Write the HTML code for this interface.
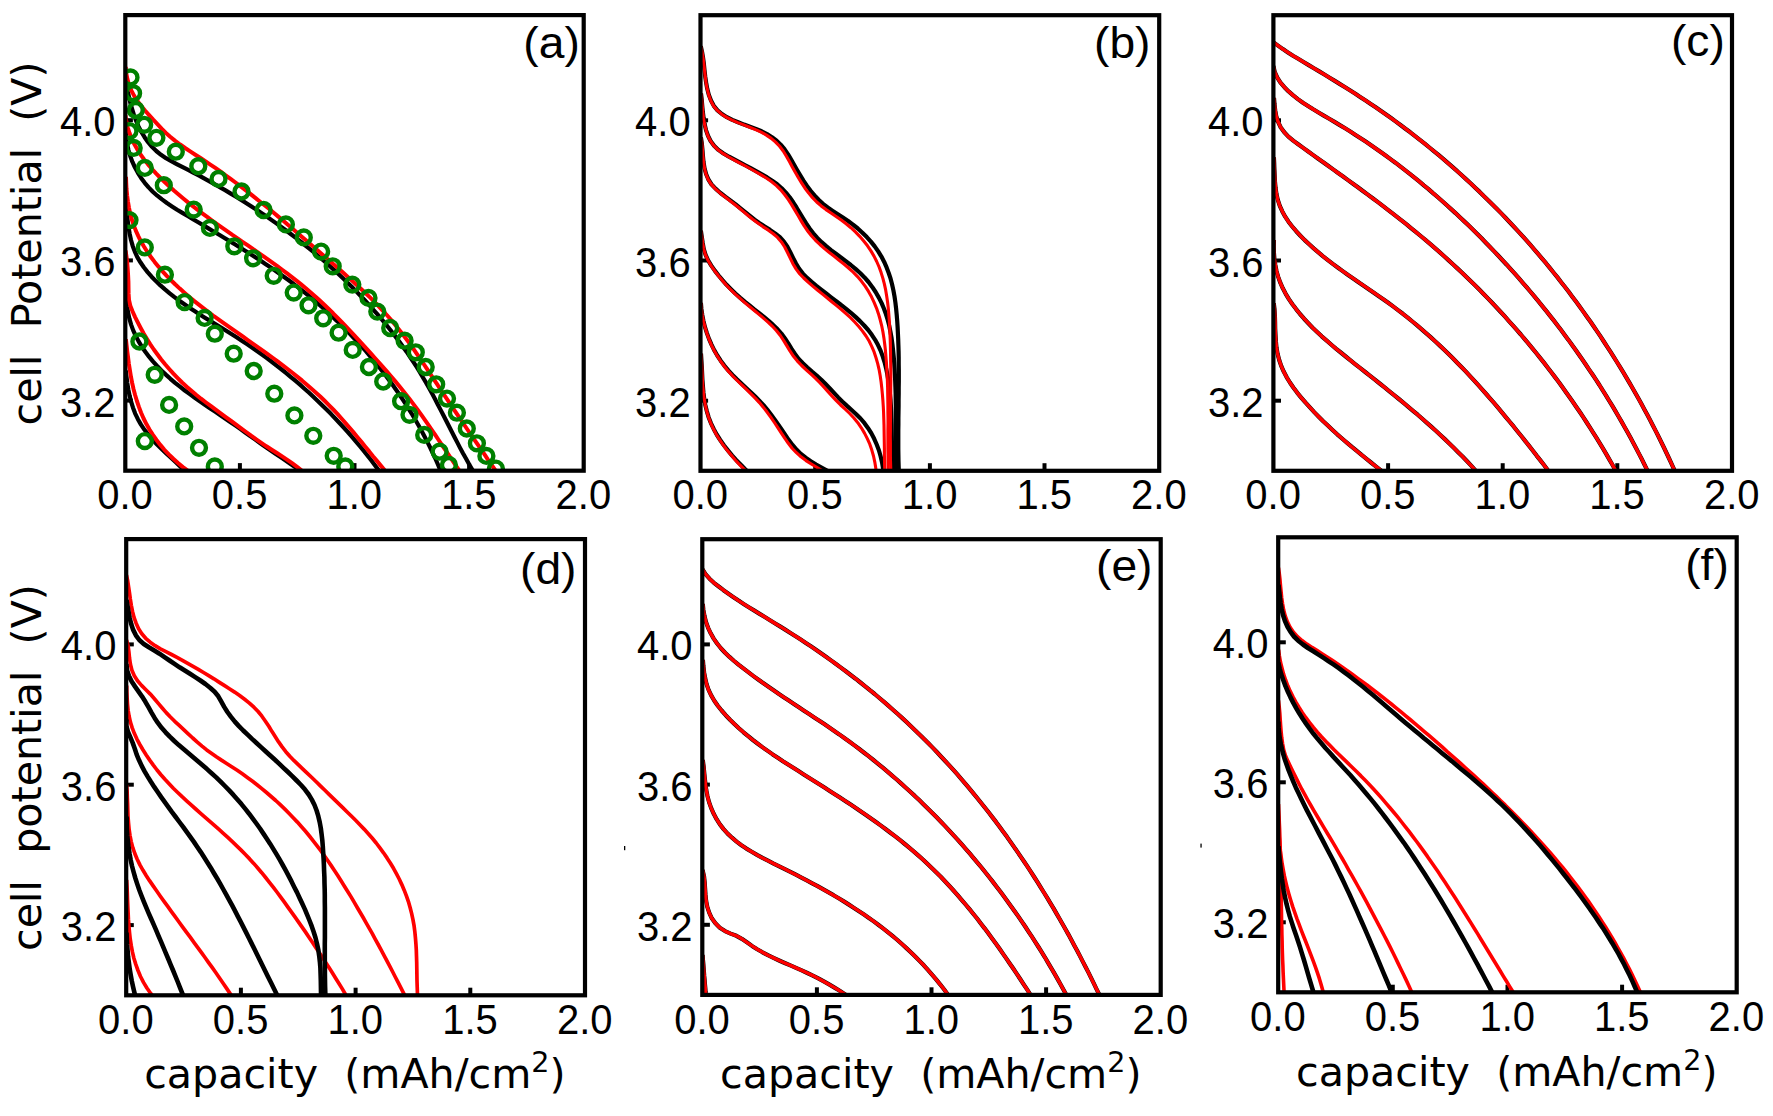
<!DOCTYPE html>
<html><head><meta charset="utf-8"><title>Discharge curves</title>
<style>
html,body{margin:0;padding:0;background:#fff;}
body{width:1773px;height:1116px;overflow:hidden;}
svg{display:block;}
.tk{font-family:"Liberation Sans",Arial,sans-serif;font-size:40px;fill:#000;}
.pl{font-family:"Liberation Sans",Arial,sans-serif;font-size:46.2px;fill:#000;}
.ax{font-family:"DejaVu Sans",Verdana,sans-serif;font-size:41.2px;fill:#000;}
.fr{fill:none;stroke:#000;stroke-width:4.2;}
.k{fill:none;stroke:#000;stroke-linejoin:round;stroke-linecap:butt;}
.r{fill:none;stroke:#f00;stroke-linejoin:round;stroke-linecap:butt;}
.g{fill:none;stroke:#008000;stroke-width:4.4;}
.t{stroke:#000;stroke-width:4;}
</style></head><body>
<svg width="1773" height="1116" viewBox="0 0 1773 1116">
<rect width="1773" height="1116" fill="#fff"/>

<clipPath id="cpa"><rect x="125.3" y="15.1" width="458.4" height="455.6"/></clipPath>
<line class="t" x1="239.9" y1="470.7" x2="239.9" y2="463.1"/>
<line class="t" x1="354.5" y1="470.7" x2="354.5" y2="463.1"/>
<line class="t" x1="469.1" y1="470.7" x2="469.1" y2="463.1"/>
<line class="t" x1="125.3" y1="400.6" x2="132.9" y2="400.6"/>
<line class="t" x1="125.3" y1="260.4" x2="132.9" y2="260.4"/>
<line class="t" x1="125.3" y1="120.2" x2="132.9" y2="120.2"/>
<g clip-path="url(#cpa)">
<path class="k" stroke-width="4.2" d="M125.6 79.5 L126.7 85.4 L127.8 91.4 L129.1 97.4 L130.5 103.4 L132.2 109.3 L134 115.2 L136.2 120.9 L138.6 126.6 L141.4 132 L144.6 137.2 L148.1 142.2 L152 146.8 L156.3 151 L161 154.8 L166 158.2 L171.3 161.2 L176.7 164.1 L182.2 166.9 L187.7 169.7 L193.2 172.6 L198.7 175.4 L204.1 178.4 L209.5 181.3 L214.9 184.3 L220.2 187.4 L225.5 190.4 L230.8 193.6 L236 196.7 L241.2 199.9 L246.4 203.2 L251.5 206.5 L256.6 209.8 L261.7 213.2 L266.7 216.6 L271.7 220.1 L276.7 223.6 L281.6 227.2 L286.5 230.8 L291.4 234.5 L296.2 238.2 L301.1 241.9 L305.8 245.8 L310.6 249.6 L315.3 253.5 L319.9 257.5 L324.6 261.5 L329.1 265.5 L333.7 269.6 L338.2 273.8 L342.7 278 L347.1 282.2 L351.5 286.5 L355.8 290.9 L360 295.3 L364.3 299.7 L368.4 304.2 L372.5 308.8 L376.6 313.4 L380.6 318 L384.5 322.7 L388.4 327.5 L392.2 332.3 L395.9 337.1 L399.6 342 L403.1 347 L406.7 351.9 L410.1 357 L413.5 362.1 L416.8 367.2 L420 372.4 L423.1 377.7 L426.2 382.9 L429.2 388.3 L432.1 393.6 L435 399 L437.8 404.5 L440.6 409.9 L443.4 415.3 L446.2 420.8 L449 426.3 L451.8 431.7 L454.6 437.2 L457.4 442.6 L460.2 448.1 L463.1 453.5 L466.1 458.8 L469.1 464.2 L472.2 469.5 L475.3 474.7"/>
<path class="k" stroke-width="4.2" d="M125.7 132 L126.2 138.2 L127.2 144.3 L128.5 150.3 L130.3 156.2 L132.4 161.9 L135 167.5 L137.9 172.8 L141.1 177.9 L144.7 182.8 L148.6 187.4 L152.8 191.7 L157.3 195.7 L162 199.4 L166.9 203 L172 206.4 L177.1 209.7 L182.4 212.9 L187.7 216 L193 219.2 L198.2 222.3 L203.5 225.4 L208.8 228.6 L214 231.7 L219.2 234.8 L224.5 238 L229.7 241.1 L234.8 244.3 L240 247.5 L245.1 250.7 L250.3 253.9 L255.3 257.2 L260.4 260.5 L265.4 263.9 L270.4 267.3 L275.4 270.7 L280.3 274.2 L285.2 277.7 L290.1 281.3 L294.9 284.9 L299.7 288.6 L304.5 292.4 L309.2 296.2 L313.8 300.1 L318.4 304 L323 308 L327.5 312.1 L332 316.2 L336.4 320.4 L340.8 324.6 L345.1 328.9 L349.4 333.3 L353.6 337.7 L357.7 342.1 L361.8 346.6 L365.9 351.2 L369.8 355.8 L373.7 360.5 L377.6 365.2 L381.4 370 L385.1 374.8 L388.8 379.7 L392.4 384.6 L395.9 389.5 L399.4 394.5 L402.8 399.6 L406.1 404.7 L409.3 409.8 L412.5 415 L415.6 420.3 L418.6 425.5 L421.5 430.8 L424.4 436.2 L427.2 441.6 L429.9 447 L432.5 452.5 L435.1 458 L437.5 463.5 L439.9 469.1 L442.2 474.7"/>
<path class="k" stroke-width="4.2" d="M125.6 203.5 L126.4 209.4 L127.1 215.4 L127.8 221.5 L128.6 227.7 L129.7 233.9 L131 240 L132.7 245.9 L134.8 251.6 L137.3 257.1 L140.4 262.3 L143.8 267.3 L147.6 272.1 L151.6 276.7 L155.9 281.1 L160.4 285.4 L165 289.4 L169.7 293.3 L174.5 297.1 L179.4 300.8 L184.4 304.3 L189.4 307.8 L194.5 311.1 L199.7 314.4 L204.9 317.7 L210.1 320.9 L215.3 324.1 L220.6 327.3 L225.8 330.6 L231 333.8 L236.2 337.1 L241.4 340.4 L246.5 343.8 L251.6 347.2 L256.6 350.7 L261.6 354.3 L266.5 357.9 L271.4 361.5 L276.3 365.3 L281.1 369 L285.9 372.9 L290.6 376.8 L295.3 380.7 L300 384.7 L304.5 388.7 L309.1 392.8 L313.6 397 L318 401.2 L322.4 405.5 L326.8 409.8 L331.1 414.1 L335.3 418.5 L339.5 423 L343.7 427.5 L347.8 432 L351.8 436.6 L355.8 441.3 L359.7 446 L363.6 450.7 L367.4 455.5 L371.2 460.3 L374.9 465.2 L378.5 470.1 L382.1 475.1"/>
<path class="k" stroke-width="4.2" d="M125.8 282.1 L125.9 288.3 L126.1 294.4 L126.5 300.6 L127.2 306.7 L128.1 312.8 L129.4 318.7 L131.1 324.6 L133.2 330.4 L135.8 336 L138.6 341.4 L141.8 346.7 L145.3 351.8 L149 356.7 L152.9 361.4 L157.1 366 L161.4 370.4 L165.8 374.6 L170.4 378.8 L175.1 382.8 L180 386.7 L184.8 390.5 L189.8 394.1 L194.8 397.7 L199.8 401.3 L204.8 404.7 L209.9 408.2 L215 411.6 L220 415 L225.1 418.4 L230.2 421.9 L235.2 425.4 L240.2 428.9 L245.2 432.5 L250.2 436.1 L255.3 439.6 L260.3 443.2 L265.3 446.7 L270.4 450.2 L275.5 453.7 L280.5 457.1 L285.6 460.6 L290.6 464.1 L295.7 467.6 L300.6 471.2 L305.6 474.8"/>
<path class="k" stroke-width="4.2" d="M125.8 370.5 L126.5 376.8 L127.3 383.1 L128.3 389.4 L129.6 395.6 L131.1 401.7 L133 407.7 L135.2 413.6 L137.9 419.2 L141 424.6 L144.5 429.8 L148.4 434.8 L152.5 439.6 L156.8 444.3 L161.4 448.8 L166 453.2 L170.7 457.5 L175.3 461.8 L179.9 466.1 L184.3 470.5 L188.4 474.9"/>
<path class="r" stroke-width="4.0" d="M125.7 66.8 L126.2 73.1 L127.4 79.1 L129.1 85 L131.4 90.6 L134.2 95.9 L137.4 100.9 L141.1 105.8 L145 110.5 L149.1 115.1 L153.2 119.7 L157.4 124.2 L161.6 128.7 L165.9 133 L170.5 137 L175.2 140.9 L180.1 144.5 L185.1 148 L190.2 151.4 L195.3 154.7 L200.5 158 L205.6 161.4 L210.7 164.8 L215.7 168.2 L220.7 171.7 L225.6 175.3 L230.6 178.9 L235.5 182.5 L240.3 186.2 L245.2 189.9 L250 193.6 L254.7 197.4 L259.5 201.2 L264.2 205 L269 208.8 L273.7 212.7 L278.3 216.6 L283 220.5 L287.6 224.5 L292.3 228.4 L296.9 232.4 L301.5 236.4 L306.2 240.4 L310.8 244.4 L315.4 248.4 L320 252.4 L324.6 256.5 L329.2 260.5 L333.8 264.5 L338.4 268.6 L343 272.6 L347.6 276.7 L352.1 280.7 L356.7 284.9 L361.1 289 L365.6 293.2 L370 297.4 L374.3 301.7 L378.5 306.1 L382.7 310.5 L386.8 315 L390.8 319.5 L394.7 324.2 L398.5 328.9 L402.3 333.7 L405.9 338.5 L409.5 343.4 L413.1 348.4 L416.5 353.4 L420 358.4 L423.4 363.5 L426.8 368.6 L430.1 373.7 L433.5 378.8 L436.9 383.9 L440.2 389 L443.6 394.1 L447 399.2 L450.4 404.2 L453.8 409.3 L457.2 414.4 L460.6 419.4 L464 424.5 L467.4 429.5 L470.9 434.6 L474.3 439.6 L477.8 444.7 L481.2 449.7 L484.7 454.7 L488.1 459.8 L491.6 464.8 L495.1 469.8 L498.6 474.8"/>
<path class="r" stroke-width="4.0" d="M125.4 115.2 L126.3 121.5 L127.7 127.5 L129.6 133.3 L131.8 138.9 L134.4 144.3 L137.4 149.6 L140.7 154.7 L144.3 159.6 L148 164.4 L152 169 L156.2 173.6 L160.5 178 L164.9 182.3 L169.4 186.5 L173.9 190.6 L178.6 194.6 L183.3 198.5 L188 202.4 L192.8 206.2 L197.7 209.9 L202.6 213.6 L207.5 217.2 L212.4 220.8 L217.4 224.4 L222.4 227.9 L227.4 231.4 L232.4 234.9 L237.5 238.3 L242.5 241.8 L247.5 245.2 L252.5 248.7 L257.5 252.1 L262.5 255.6 L267.5 259.1 L272.4 262.6 L277.3 266.2 L282.2 269.8 L287.1 273.4 L291.9 277.1 L296.7 280.8 L301.4 284.6 L306.1 288.5 L310.7 292.5 L315.3 296.5 L319.8 300.6 L324.3 304.8 L328.7 309 L333.1 313.3 L337.4 317.7 L341.6 322 L345.9 326.5 L350.1 330.9 L354.3 335.4 L358.5 339.9 L362.6 344.4 L366.7 348.9 L370.8 353.4 L374.9 358 L379 362.5 L383 367.1 L387 371.6 L391 376.2 L394.9 380.9 L398.8 385.5 L402.6 390.3 L406.4 395 L410.1 399.8 L413.8 404.6 L417.4 409.5 L421 414.4 L424.5 419.4 L428 424.4 L431.4 429.4 L434.9 434.4 L438.3 439.5 L441.7 444.6 L445.1 449.6 L448.5 454.7 L452 459.8 L455.4 464.9 L458.8 469.9 L462.3 475"/>
<path class="r" stroke-width="4.0" d="M126 176.7 L126.2 182.8 L126.5 189 L127.1 195.2 L127.9 201.3 L128.9 207.3 L130.2 213.3 L131.7 219.2 L133.6 224.9 L135.8 230.6 L138.3 236.1 L141 241.5 L144.1 246.8 L147.4 252 L150.9 257 L154.6 261.9 L158.5 266.7 L162.6 271.3 L166.7 275.8 L171 280.2 L175.4 284.5 L179.8 288.6 L184.4 292.7 L189 296.7 L193.7 300.6 L198.5 304.4 L203.3 308.1 L208.2 311.8 L213.1 315.5 L218.1 319.1 L223 322.6 L228 326.2 L233 329.7 L238.1 333.2 L243.1 336.7 L248.1 340.3 L253.1 343.8 L258.1 347.3 L263.1 350.9 L268 354.4 L273 358 L277.9 361.7 L282.8 365.3 L287.6 369 L292.4 372.8 L297.2 376.6 L301.9 380.4 L306.6 384.4 L311.2 388.4 L315.7 392.4 L320.2 396.5 L324.6 400.8 L328.9 405.1 L333.2 409.5 L337.4 413.9 L341.5 418.5 L345.5 423.1 L349.6 427.8 L353.5 432.4 L357.5 437.2 L361.4 441.9 L365.3 446.7 L369.2 451.4 L373 456.2 L376.9 460.9 L380.8 465.6 L384.7 470.3 L388.6 474.9"/>
<path class="r" stroke-width="4.0" d="M125.6 250.5 L126.5 256.7 L127.2 262.8 L127.7 269 L128.1 275.3 L128.4 281.5 L128.5 287.7 L128.6 293.9 L129 299.9 L130.3 305.7 L132.6 311.5 L135.1 317.1 L137.9 322.7 L140.8 328.2 L143.8 333.7 L147 339 L150.3 344.3 L153.8 349.5 L157.5 354.5 L161.2 359.5 L165.1 364.3 L169.2 369 L173.4 373.7 L177.7 378.1 L182.1 382.5 L186.7 386.7 L191.4 390.8 L196.1 394.8 L201 398.7 L206 402.5 L211 406.2 L216 409.9 L221 413.6 L226.1 417.3 L231.1 420.9 L236.1 424.6 L241.1 428.3 L246.1 432 L251.1 435.7 L256.2 439.3 L261.3 442.8 L266.4 446.3 L271.7 449.7 L276.9 453 L282.1 456.4 L287.3 459.8 L292.4 463.4 L297.4 467.1 L302.3 471 L306.9 475.1"/>
<path class="r" stroke-width="4.0" d="M125.9 339.2 L126.6 345.4 L127.3 351.6 L128.1 357.8 L128.9 364.1 L129.9 370.3 L130.9 376.5 L132.1 382.7 L133.5 388.9 L135.1 395 L136.9 401 L138.9 406.9 L141.1 412.8 L143.6 418.5 L146.4 424.1 L149.5 429.5 L152.9 434.8 L156.5 440 L160.3 444.9 L164.4 449.8 L168.8 454.4 L173.3 458.8 L178 463 L182.9 467.1 L188 470.9 L193.3 474.4"/>
<circle class="g" cx="130.5" cy="77.4" r="6.95"/>
<circle class="g" cx="133.1" cy="93.2" r="6.95"/>
<circle class="g" cx="135.8" cy="110" r="6.95"/>
<circle class="g" cx="144.2" cy="124.8" r="6.95"/>
<circle class="g" cx="156.4" cy="137.8" r="6.95"/>
<circle class="g" cx="175.8" cy="151.7" r="6.95"/>
<circle class="g" cx="198.3" cy="166.2" r="6.95"/>
<circle class="g" cx="218.5" cy="178.9" r="6.95"/>
<circle class="g" cx="241.5" cy="191.5" r="6.95"/>
<circle class="g" cx="263.6" cy="210" r="6.95"/>
<circle class="g" cx="285.9" cy="224.4" r="6.95"/>
<circle class="g" cx="303.8" cy="237.4" r="6.95"/>
<circle class="g" cx="129.5" cy="131.1" r="6.95"/>
<circle class="g" cx="133.7" cy="147.9" r="6.95"/>
<circle class="g" cx="144.8" cy="167.9" r="6.95"/>
<circle class="g" cx="163.8" cy="185.2" r="6.95"/>
<circle class="g" cx="193.7" cy="209.6" r="6.95"/>
<circle class="g" cx="209.9" cy="227.9" r="6.95"/>
<circle class="g" cx="129.5" cy="220.1" r="6.95"/>
<circle class="g" cx="321.1" cy="251.6" r="6.95"/>
<circle class="g" cx="332.7" cy="266.3" r="6.95"/>
<circle class="g" cx="352.3" cy="284.6" r="6.95"/>
<circle class="g" cx="368.5" cy="297.9" r="6.95"/>
<circle class="g" cx="377.3" cy="311.6" r="6.95"/>
<circle class="g" cx="390.2" cy="328" r="6.95"/>
<circle class="g" cx="234.3" cy="246.3" r="6.95"/>
<circle class="g" cx="253.1" cy="258.3" r="6.95"/>
<circle class="g" cx="273.7" cy="275.8" r="6.95"/>
<circle class="g" cx="293.7" cy="292.6" r="6.95"/>
<circle class="g" cx="308.5" cy="305.3" r="6.95"/>
<circle class="g" cx="323.2" cy="318.3" r="6.95"/>
<circle class="g" cx="338.6" cy="332.7" r="6.95"/>
<circle class="g" cx="352.7" cy="349.9" r="6.95"/>
<circle class="g" cx="368.9" cy="367" r="6.95"/>
<circle class="g" cx="383.2" cy="381.5" r="6.95"/>
<circle class="g" cx="144.8" cy="247.4" r="6.95"/>
<circle class="g" cx="164.9" cy="274.7" r="6.95"/>
<circle class="g" cx="184.6" cy="302.1" r="6.95"/>
<circle class="g" cx="204.6" cy="317.9" r="6.95"/>
<circle class="g" cx="214.8" cy="333.7" r="6.95"/>
<circle class="g" cx="233.7" cy="353.7" r="6.95"/>
<circle class="g" cx="253.7" cy="371" r="6.95"/>
<circle class="g" cx="274.3" cy="393.7" r="6.95"/>
<circle class="g" cx="294.4" cy="415.4" r="6.95"/>
<circle class="g" cx="313.3" cy="435.8" r="6.95"/>
<circle class="g" cx="333.7" cy="455.8" r="6.95"/>
<circle class="g" cx="345.3" cy="466.4" r="6.95"/>
<circle class="g" cx="139.4" cy="341.5" r="6.95"/>
<circle class="g" cx="154.7" cy="374.8" r="6.95"/>
<circle class="g" cx="169.1" cy="404.9" r="6.95"/>
<circle class="g" cx="184.2" cy="426.4" r="6.95"/>
<circle class="g" cx="199" cy="447.8" r="6.95"/>
<circle class="g" cx="214.8" cy="466.4" r="6.95"/>
<circle class="g" cx="144.8" cy="441.1" r="6.95"/>
<circle class="g" cx="404.6" cy="340.7" r="6.95"/>
<circle class="g" cx="415.8" cy="352.3" r="6.95"/>
<circle class="g" cx="425.7" cy="367" r="6.95"/>
<circle class="g" cx="436.2" cy="384.3" r="6.95"/>
<circle class="g" cx="447" cy="398.6" r="6.95"/>
<circle class="g" cx="456.9" cy="412.7" r="6.95"/>
<circle class="g" cx="466.8" cy="428.5" r="6.95"/>
<circle class="g" cx="476.9" cy="443.3" r="6.95"/>
<circle class="g" cx="486.4" cy="455.9" r="6.95"/>
<circle class="g" cx="495.9" cy="468.6" r="6.95"/>
<circle class="g" cx="401.1" cy="401.2" r="6.95"/>
<circle class="g" cx="409.5" cy="414.8" r="6.95"/>
<circle class="g" cx="424.2" cy="434.9" r="6.95"/>
<circle class="g" cx="439.6" cy="451.7" r="6.95"/>
<circle class="g" cx="448.9" cy="465" r="6.95"/>
</g>
<rect class="fr" x="125.3" y="15.1" width="458.4" height="455.6"/>
<text class="tk" text-anchor="end" transform="translate(115.5 416.6) scale(1 1.045)">3.2</text>
<text class="tk" text-anchor="end" transform="translate(115.5 276.4) scale(1 1.045)">3.6</text>
<text class="tk" text-anchor="end" transform="translate(115.5 136.2) scale(1 1.045)">4.0</text>
<text class="tk" text-anchor="middle" transform="translate(125 509) scale(1 1.045)">0.0</text>
<text class="tk" text-anchor="middle" transform="translate(239.6 509) scale(1 1.045)">0.5</text>
<text class="tk" text-anchor="middle" transform="translate(354.2 509) scale(1 1.045)">1.0</text>
<text class="tk" text-anchor="middle" transform="translate(468.8 509) scale(1 1.045)">1.5</text>
<text class="tk" text-anchor="middle" transform="translate(583.4 509) scale(1 1.045)">2.0</text>
<text class="pl" text-anchor="end" transform="translate(579.8 57.5) scale(1 0.965)">(a)</text>
<clipPath id="cpb"><rect x="700.5" y="15.2" width="458.7" height="455.6"/></clipPath>
<line class="t" x1="815.2" y1="470.8" x2="815.2" y2="463.2"/>
<line class="t" x1="929.9" y1="470.8" x2="929.9" y2="463.2"/>
<line class="t" x1="1044.5" y1="470.8" x2="1044.5" y2="463.2"/>
<line class="t" x1="700.5" y1="400.7" x2="708.1" y2="400.7"/>
<line class="t" x1="700.5" y1="260.5" x2="708.1" y2="260.5"/>
<line class="t" x1="700.5" y1="120.3" x2="708.1" y2="120.3"/>
<g clip-path="url(#cpb)">
<path class="k" stroke-width="4.2" d="M700.8 46.3 L702.1 52.2 L703.1 58.1 L703.9 64.1 L704.5 70.2 L705.2 76.3 L706.1 82.4 L707.2 88.6 L708.8 94.8 L711 100.6 L713.8 105.8 L717.5 110.3 L721.9 114 L726.9 117.2 L732.3 119.9 L738.1 122.3 L744 124.6 L750 126.7 L755.9 128.9 L761.6 131.3 L767 134.1 L772 137.2 L776.6 140.7 L780.7 144.7 L784.5 149.2 L787.9 154.1 L791 159.4 L794.1 164.8 L797.2 170.2 L800.4 175.5 L803.6 180.8 L807 185.9 L810.6 190.8 L814.5 195.4 L818.6 199.8 L823 203.8 L827.7 207.5 L832.7 210.9 L837.8 214.3 L842.9 217.6 L848.1 221 L853 224.6 L857.8 228.5 L862.4 232.7 L866.8 237.1 L870.9 241.6 L874.7 246.4 L878.2 251.4 L881.4 256.6 L884.2 261.9 L886.6 267.4 L888.7 273 L890.6 278.7 L892.1 284.5 L893.4 290.4 L894.5 296.4 L895.4 302.5 L896.1 308.6 L896.7 314.7 L897.2 320.9 L897.6 327 L897.9 333.1 L898.2 339.3 L898.4 345.4 L898.6 351.5 L898.7 357.6 L898.7 363.7 L898.8 369.7 L898.8 375.8 L898.8 381.9 L898.7 388 L898.7 394 L898.6 400.1 L898.6 406.2 L898.5 412.2 L898.4 418.3 L898.4 424.4 L898.3 430.5 L898.3 436.6 L898.3 442.7 L898.3 448.8 L898.4 454.9 L898.5 461 L898.7 467.2 L898.9 473.3"/>
<path class="k" stroke-width="4.2" d="M701 93.4 L701.7 99.2 L702.2 105.3 L702.8 111.6 L703.6 117.9 L704.6 124.1 L706 130.1 L708 135.8 L710.6 141 L714.1 145.8 L718.4 149.9 L723.5 153.5 L729 156.7 L734.6 159.7 L740.2 162.6 L745.7 165.5 L751.1 168.4 L756.5 171.3 L761.8 174.3 L767.1 177.4 L772.2 180.7 L777.2 184.2 L781.7 188.2 L785.9 192.6 L789.7 197.3 L793.2 202.3 L796.5 207.5 L799.7 212.8 L802.9 218.1 L806.2 223.4 L809.6 228.5 L813.3 233.3 L817.3 237.9 L821.6 242.2 L826.2 246.2 L831 250.1 L835.9 253.8 L840.9 257.5 L845.8 261.2 L850.8 265 L855.5 268.9 L860.1 273 L864.5 277.4 L868.5 282 L872.2 286.9 L875.6 292 L878.7 297.4 L881.5 302.9 L883.9 308.5 L886 314.3 L887.8 320.2 L889.3 326.1 L890.5 332.1 L891.6 338.2 L892.4 344.3 L893.1 350.4 L893.7 356.5 L894.2 362.6 L894.6 368.8 L894.9 374.9 L895.2 381.1 L895.4 387.2 L895.6 393.3 L895.7 399.5 L895.8 405.6 L895.8 411.8 L895.8 417.9 L895.8 424.1 L895.8 430.2 L895.8 436.4 L895.8 442.5 L895.8 448.7 L895.8 454.8 L895.9 461 L896 467.1 L896.1 473.3"/>
<path class="k" stroke-width="4.2" d="M700.9 137.3 L701.8 143.1 L702.4 149.3 L702.9 155.6 L703.5 161.9 L704.5 168.1 L706.1 174 L708.4 179.5 L711.6 184.5 L715.8 188.9 L720.5 193 L725.6 196.9 L730.7 200.6 L735.7 204.4 L740.5 208.3 L745.2 212.2 L749.9 216 L754.6 219.7 L759.6 223.2 L764.7 226.6 L770 229.9 L775.1 233.4 L779.9 237.2 L783.9 241.7 L787.4 246.8 L790.3 252.3 L793.1 257.9 L796 263.5 L799.2 268.8 L802.9 273.6 L807.1 277.9 L811.6 281.9 L816.4 285.9 L821.2 289.7 L826.2 293.5 L831.1 297.3 L836.2 301.1 L841.1 305 L846.1 308.8 L850.9 312.8 L855.5 316.9 L860 321.1 L864.2 325.5 L868.2 330 L871.8 334.8 L875.1 339.8 L878 345.1 L880.6 350.6 L882.7 356.4 L884.6 362.3 L886.1 368.4 L887.4 374.6 L888.4 380.8 L889.3 387.1 L889.9 393.4 L890.5 399.6 L890.9 405.8 L891.2 411.9 L891.4 417.9 L891.6 424 L891.7 430 L891.8 436.1 L891.9 442.1 L891.9 448.2 L892 454.4 L892.2 460.6 L892.3 466.9 L892.5 473.3"/>
<path class="k" stroke-width="4.2" d="M700.9 230.7 L701.8 236.7 L702.7 242.9 L703.8 249 L705.6 254.9 L708.1 260.4 L711.3 265.6 L714.8 270.6 L718.6 275.5 L722.5 280.2 L726.6 284.8 L731 289.2 L735.4 293.5 L740 297.6 L744.7 301.6 L749.5 305.4 L754.3 309.3 L759.2 313.1 L763.9 316.9 L768.6 320.8 L773.1 324.9 L777.4 329.1 L781.4 333.6 L785 338.5 L788.4 343.6 L791.6 348.9 L795 354 L798.7 358.9 L802.9 363.3 L807.4 367.5 L812 371.6 L816.7 375.6 L821.3 379.8 L825.6 384.1 L829.9 388.5 L834 392.9 L838.2 397.4 L842.5 401.7 L847 405.9 L851.6 410 L856.2 414.2 L860.5 418.5 L864.5 423.2 L868.1 428.2 L871.4 433.4 L874.2 438.8 L876.7 444.5 L878.9 450.2 L880.6 456.2 L882 462.2 L883 468.2 L883.6 474.4"/>
<path class="k" stroke-width="4.2" d="M700.9 302.9 L701.4 309 L702.3 315.1 L703.5 321.2 L705 327.2 L706.9 333.1 L709 338.9 L711.5 344.6 L714.2 350.1 L717.3 355.5 L720.7 360.7 L724.3 365.6 L728.3 370.4 L732.5 374.9 L736.9 379.3 L741.4 383.6 L745.9 387.8 L750.5 392 L755 396.3 L759.3 400.7 L763.5 405.2 L767.4 409.9 L771.2 414.8 L774.8 419.7 L778.3 424.8 L781.8 429.8 L785.3 435 L788.8 440.1 L792.5 445 L796.5 449.6 L800.9 453.9 L805.7 457.7 L810.8 461.2 L816.1 464.5 L821.5 467.6 L827 470.6 L832.4 473.5"/>
<path class="k" stroke-width="4.2" d="M701 353.7 L701.4 360 L701.8 366.4 L702.1 372.9 L702.4 379.3 L702.9 385.8 L703.4 392.2 L704.2 398.6 L705.3 404.9 L706.8 411.1 L708.6 417.2 L710.9 423.1 L713.7 428.9 L716.7 434.5 L720.2 440 L723.9 445.3 L727.9 450.4 L732 455.4 L736.3 460.2 L740.8 464.8 L745.2 469.3 L749.7 473.6"/>
<path class="r" stroke-width="3.1" d="M700.8 46.4 L702.1 52.2 L703.1 58.1 L703.9 64.1 L704.5 70.2 L705.2 76.3 L706 82.5 L707.1 88.7 L708.7 94.9 L710.8 100.7 L713.6 105.9 L717.3 110.4 L721.7 114.2 L726.7 117.4 L732.1 120.1 L737.9 122.6 L743.8 124.9 L749.7 127.2 L755.6 129.6 L761.2 132.1 L766.4 135.1 L771.2 138.4 L775.6 142.1 L779.6 146.3 L783.2 151 L786.4 156.2 L789.4 161.6 L792.3 167 L795.4 172.5 L798.4 177.8 L801.7 183.1 L805 188.2 L808.7 193.1 L812.5 197.7 L816.7 202 L821.2 205.9 L826 209.6 L831 213 L836.1 216.5 L841.2 220 L846.1 223.7 L850.9 227.7 L855.4 231.9 L859.7 236.3 L863.7 241 L867.5 245.8 L870.9 250.9 L874 256.1 L876.7 261.5 L879.1 267 L881.1 272.6 L882.9 278.4 L884.4 284.2 L885.7 290.2 L886.7 296.2 L887.6 302.3 L888.3 308.4 L888.8 314.5 L889.3 320.7 L889.6 326.8 L889.9 332.9 L890.2 339.1 L890.4 345.2 L890.5 351.3 L890.6 357.4 L890.7 363.5 L890.8 369.6 L890.8 375.7 L890.8 381.8 L890.7 387.8 L890.7 393.9 L890.6 400 L890.6 406.1 L890.5 412.2 L890.5 418.2 L890.4 424.3 L890.4 430.4 L890.3 436.5 L890.4 442.6 L890.4 448.7 L890.4 454.9 L890.5 461 L890.7 467.2 L890.8 473.3"/>
<path class="r" stroke-width="3.1" d="M701 93.4 L701.7 99.2 L702.2 105.4 L702.8 111.6 L703.5 117.9 L704.5 124.2 L706 130.2 L707.9 135.9 L710.6 141.2 L714 145.9 L718.3 150.1 L723.3 153.7 L728.8 157 L734.4 160.1 L740 163.1 L745.5 166 L750.9 169 L756.2 172 L761.5 175.1 L766.7 178.3 L771.7 181.8 L776.4 185.6 L780.7 189.8 L784.6 194.5 L788.2 199.4 L791.6 204.6 L794.7 209.9 L797.9 215.3 L801 220.6 L804.2 225.9 L807.7 231 L811.4 235.8 L815.5 240.3 L819.9 244.5 L824.5 248.6 L829.3 252.5 L834.2 256.3 L839.1 260.2 L843.9 264 L848.6 268 L853.2 272.2 L857.5 276.6 L861.5 281.3 L865.1 286.2 L868.5 291.4 L871.5 296.8 L874.1 302.4 L876.5 308.1 L878.5 313.9 L880.2 319.8 L881.7 325.8 L882.9 331.8 L883.9 337.9 L884.7 344 L885.4 350.1 L885.9 356.3 L886.4 362.4 L886.8 368.6 L887.1 374.7 L887.4 380.9 L887.6 387 L887.7 393.2 L887.8 399.3 L887.9 405.5 L887.9 411.7 L888 417.8 L888 424 L887.9 430.1 L887.9 436.3 L887.9 442.5 L887.9 448.6 L888 454.8 L888 461 L888.1 467.1 L888.2 473.3"/>
<path class="r" stroke-width="3.1" d="M700.9 137.3 L701.8 143.1 L702.4 149.1 L702.9 155.4 L703.5 161.6 L704.4 167.7 L705.8 173.6 L708 179.1 L711.1 184.1 L715.1 188.6 L719.7 192.7 L724.6 196.6 L729.6 200.4 L734.5 204.2 L739.2 208 L743.8 211.9 L748.4 215.8 L753 219.5 L757.8 223.1 L762.8 226.6 L768 229.9 L772.9 233.5 L777.5 237.4 L781.4 241.9 L784.7 247 L787.5 252.5 L790.2 258.1 L792.9 263.7 L796 268.9 L799.6 273.7 L803.7 278 L808.1 282.1 L812.7 286.1 L817.4 290 L822.2 293.9 L827 297.8 L831.8 301.7 L836.6 305.6 L841.4 309.5 L846 313.6 L850.5 317.7 L854.7 322 L858.8 326.5 L862.5 331.1 L866 336 L869.1 341 L871.7 346.4 L874.1 351.9 L876 357.7 L877.7 363.6 L879.1 369.6 L880.2 375.8 L881.1 382 L881.8 388.2 L882.4 394.4 L882.9 400.5 L883.3 406.6 L883.6 412.6 L883.8 418.6 L884 424.6 L884.1 430.5 L884.2 436.5 L884.3 442.5 L884.4 448.5 L884.4 454.6 L884.5 460.8 L884.7 467 L884.8 473.3"/>
<path class="r" stroke-width="3.1" d="M700.9 230.7 L701.8 236.7 L702.7 242.9 L703.8 249.1 L705.5 255 L708.1 260.5 L711.2 265.8 L714.7 270.9 L718.4 275.8 L722.4 280.6 L726.5 285.2 L730.7 289.7 L735.2 294.1 L739.8 298.2 L744.5 302.3 L749.2 306.3 L754 310.2 L758.7 314.1 L763.4 318.1 L768 322.1 L772.4 326.3 L776.5 330.8 L780.3 335.5 L783.7 340.6 L786.9 345.9 L790.1 351.2 L793.5 356.3 L797.4 361.1 L801.6 365.5 L806.2 369.8 L810.7 373.9 L815.3 378.1 L819.6 382.5 L823.8 387 L828 391.6 L832.1 396.1 L836.3 400.6 L840.6 405 L845.2 409.2 L849.7 413.5 L853.9 418 L857.8 422.7 L861.3 427.8 L864.5 433.1 L867.3 438.6 L869.8 444.2 L871.8 450.1 L873.5 456 L874.8 462.1 L875.8 468.2 L876.3 474.4"/>
<path class="r" stroke-width="3.1" d="M700.9 302.9 L701.4 309.1 L702.3 315.3 L703.5 321.4 L705.1 327.5 L706.9 333.5 L709.1 339.4 L711.5 345.2 L714.3 350.8 L717.4 356.2 L720.8 361.5 L724.5 366.5 L728.5 371.4 L732.7 376 L737.2 380.5 L741.7 384.9 L746.2 389.2 L750.7 393.6 L755.2 398.1 L759.4 402.6 L763.4 407.4 L767.2 412.3 L770.9 417.3 L774.4 422.5 L777.8 427.7 L781.2 432.9 L784.7 438.2 L788.3 443.3 L792.1 448.2 L796.4 452.7 L801 456.8 L806 460.6 L811.3 464 L816.7 467.3 L822.2 470.5 L827.7 473.5"/>
<path class="r" stroke-width="3.1" d="M701 353.7 L701.4 360 L701.8 366.4 L702.1 372.8 L702.4 379.2 L702.8 385.6 L703.4 392 L704.1 398.3 L705.2 404.6 L706.6 410.8 L708.4 416.8 L710.6 422.8 L713.2 428.5 L716.2 434.2 L719.6 439.7 L723.2 445 L727 450.1 L731.1 455.1 L735.3 460 L739.6 464.7 L744 469.2 L748.4 473.6"/>
</g>
<rect class="fr" x="700.5" y="15.2" width="458.7" height="455.6"/>
<text class="tk" text-anchor="end" transform="translate(690.7 416.7) scale(1 1.045)">3.2</text>
<text class="tk" text-anchor="end" transform="translate(690.7 276.5) scale(1 1.045)">3.6</text>
<text class="tk" text-anchor="end" transform="translate(690.7 136.3) scale(1 1.045)">4.0</text>
<text class="tk" text-anchor="middle" transform="translate(700.2 509.1) scale(1 1.045)">0.0</text>
<text class="tk" text-anchor="middle" transform="translate(814.9 509.1) scale(1 1.045)">0.5</text>
<text class="tk" text-anchor="middle" transform="translate(929.6 509.1) scale(1 1.045)">1.0</text>
<text class="tk" text-anchor="middle" transform="translate(1044.2 509.1) scale(1 1.045)">1.5</text>
<text class="tk" text-anchor="middle" transform="translate(1158.9 509.1) scale(1 1.045)">2.0</text>
<text class="pl" text-anchor="end" transform="translate(1150.5 58.1) scale(1 0.965)">(b)</text>
<clipPath id="cpc"><rect x="1273.4" y="15.2" width="458.6" height="455.6"/></clipPath>
<line class="t" x1="1388.1" y1="470.8" x2="1388.1" y2="463.2"/>
<line class="t" x1="1502.7" y1="470.8" x2="1502.7" y2="463.2"/>
<line class="t" x1="1617.3" y1="470.8" x2="1617.3" y2="463.2"/>
<line class="t" x1="1273.4" y1="400.7" x2="1281" y2="400.7"/>
<line class="t" x1="1273.4" y1="260.5" x2="1281" y2="260.5"/>
<line class="t" x1="1273.4" y1="120.3" x2="1281" y2="120.3"/>
<g clip-path="url(#cpc)">
<path class="k" stroke-width="4.2" d="M1273.2 42.1 L1278 45.6 L1282.9 49.1 L1287.9 52.4 L1293 55.7 L1298.2 58.8 L1303.5 62 L1308.7 65.1 L1313.9 68.2 L1319.2 71.4 L1324.4 74.5 L1329.6 77.7 L1334.8 80.9 L1340 84.1 L1345.1 87.3 L1350.3 90.6 L1355.4 93.8 L1360.5 97.2 L1365.6 100.5 L1370.7 103.9 L1375.7 107.3 L1380.7 110.8 L1385.7 114.3 L1390.7 117.8 L1395.6 121.4 L1400.5 125 L1405.4 128.7 L1410.3 132.3 L1415.1 136.1 L1419.9 139.8 L1424.7 143.6 L1429.4 147.5 L1434.1 151.3 L1438.8 155.2 L1443.5 159.2 L1448.1 163.2 L1452.7 167.2 L1457.3 171.2 L1461.8 175.3 L1466.3 179.4 L1470.8 183.5 L1475.2 187.7 L1479.7 191.9 L1484 196.2 L1488.4 200.4 L1492.7 204.7 L1497 209 L1501.3 213.4 L1505.5 217.8 L1509.7 222.2 L1513.9 226.7 L1518 231.1 L1522.1 235.6 L1526.2 240.2 L1530.2 244.7 L1534.2 249.3 L1538.1 253.9 L1542.1 258.6 L1546 263.2 L1549.8 267.9 L1553.7 272.7 L1557.5 277.4 L1561.2 282.2 L1565 287 L1568.7 291.8 L1572.3 296.7 L1576 301.6 L1579.6 306.5 L1583.1 311.4 L1586.7 316.4 L1590.2 321.3 L1593.6 326.3 L1597.1 331.4 L1600.5 336.4 L1603.8 341.5 L1607.1 346.6 L1610.4 351.7 L1613.7 356.9 L1616.9 362 L1620.1 367.2 L1623.3 372.4 L1626.4 377.6 L1629.5 382.9 L1632.6 388.2 L1635.6 393.5 L1638.6 398.8 L1641.5 404.1 L1644.4 409.5 L1647.3 414.8 L1650.2 420.2 L1653 425.7 L1655.8 431.1 L1658.5 436.5 L1661.2 442 L1663.9 447.5 L1666.5 453 L1669.1 458.5 L1671.7 464.1 L1674.2 469.6 L1676.7 475.2"/>
<path class="r" stroke-width="3.4" d="M1273.2 42.1 L1278 45.6 L1282.9 49.1 L1287.9 52.4 L1293 55.7 L1298.2 58.8 L1303.5 62 L1308.7 65.1 L1313.9 68.2 L1319.2 71.4 L1324.4 74.5 L1329.6 77.7 L1334.8 80.9 L1340 84.1 L1345.1 87.3 L1350.3 90.6 L1355.4 93.8 L1360.5 97.2 L1365.6 100.5 L1370.7 103.9 L1375.7 107.3 L1380.7 110.8 L1385.7 114.3 L1390.7 117.8 L1395.6 121.4 L1400.5 125 L1405.4 128.7 L1410.3 132.3 L1415.1 136.1 L1419.9 139.8 L1424.7 143.6 L1429.4 147.5 L1434.1 151.3 L1438.8 155.2 L1443.5 159.2 L1448.1 163.2 L1452.7 167.2 L1457.3 171.2 L1461.8 175.3 L1466.3 179.4 L1470.8 183.5 L1475.2 187.7 L1479.7 191.9 L1484 196.2 L1488.4 200.4 L1492.7 204.7 L1497 209 L1501.3 213.4 L1505.5 217.8 L1509.7 222.2 L1513.9 226.7 L1518 231.1 L1522.1 235.6 L1526.2 240.2 L1530.2 244.7 L1534.2 249.3 L1538.1 253.9 L1542.1 258.6 L1546 263.2 L1549.8 267.9 L1553.7 272.7 L1557.5 277.4 L1561.2 282.2 L1565 287 L1568.7 291.8 L1572.3 296.7 L1576 301.6 L1579.6 306.5 L1583.1 311.4 L1586.7 316.4 L1590.2 321.3 L1593.6 326.3 L1597.1 331.4 L1600.5 336.4 L1603.8 341.5 L1607.1 346.6 L1610.4 351.7 L1613.7 356.9 L1616.9 362 L1620.1 367.2 L1623.3 372.4 L1626.4 377.6 L1629.5 382.9 L1632.6 388.2 L1635.6 393.5 L1638.6 398.8 L1641.5 404.1 L1644.4 409.5 L1647.3 414.8 L1650.2 420.2 L1653 425.7 L1655.8 431.1 L1658.5 436.5 L1661.2 442 L1663.9 447.5 L1666.5 453 L1669.1 458.5 L1671.7 464.1 L1674.2 469.6 L1676.7 475.2"/>
<path class="k" stroke-width="4.2" d="M1273.4 66 L1274.8 72.2 L1277.3 77.7 L1280.5 82.7 L1284.4 87.2 L1288.6 91.4 L1293.2 95.4 L1297.9 99.1 L1302.9 102.7 L1308 106 L1313.2 109.3 L1318.5 112.5 L1323.8 115.6 L1329.2 118.7 L1334.5 121.9 L1339.8 125.1 L1345.1 128.3 L1350.3 131.5 L1355.5 134.9 L1360.6 138.2 L1365.7 141.6 L1370.7 145 L1375.7 148.5 L1380.7 152 L1385.6 155.5 L1390.5 159.1 L1395.4 162.7 L1400.2 166.4 L1405 170.1 L1409.8 173.8 L1414.5 177.6 L1419.2 181.4 L1423.8 185.3 L1428.5 189.1 L1433 193.1 L1437.6 197 L1442.1 201 L1446.6 205 L1451.1 209.1 L1455.5 213.1 L1459.9 217.3 L1464.3 221.4 L1468.7 225.6 L1473 229.8 L1477.3 234.1 L1481.6 238.3 L1485.8 242.7 L1490 247 L1494.2 251.4 L1498.4 255.8 L1502.5 260.2 L1506.7 264.7 L1510.7 269.2 L1514.8 273.7 L1518.8 278.2 L1522.8 282.8 L1526.8 287.4 L1530.7 292 L1534.6 296.7 L1538.5 301.4 L1542.3 306.1 L1546.2 310.9 L1549.9 315.6 L1553.7 320.4 L1557.4 325.2 L1561.1 330.1 L1564.7 335 L1568.4 339.9 L1571.9 344.8 L1575.5 349.7 L1579 354.7 L1582.5 359.7 L1585.9 364.7 L1589.3 369.8 L1592.7 374.8 L1596.1 379.9 L1599.4 385 L1602.6 390.2 L1605.9 395.3 L1609 400.5 L1612.2 405.7 L1615.3 410.9 L1618.4 416.2 L1621.4 421.4 L1624.4 426.7 L1627.4 432 L1630.3 437.3 L1633.2 442.7 L1636 448 L1638.8 453.4 L1641.6 458.8 L1644.3 464.2 L1647 469.6 L1649.6 475.1"/>
<path class="r" stroke-width="3.4" d="M1273.4 66 L1274.8 72.2 L1277.3 77.7 L1280.5 82.7 L1284.4 87.2 L1288.6 91.4 L1293.2 95.4 L1297.9 99.1 L1302.9 102.7 L1308 106 L1313.2 109.3 L1318.5 112.5 L1323.8 115.6 L1329.2 118.7 L1334.5 121.9 L1339.8 125.1 L1345.1 128.3 L1350.3 131.5 L1355.5 134.9 L1360.6 138.2 L1365.7 141.6 L1370.7 145 L1375.7 148.5 L1380.7 152 L1385.6 155.5 L1390.5 159.1 L1395.4 162.7 L1400.2 166.4 L1405 170.1 L1409.8 173.8 L1414.5 177.6 L1419.2 181.4 L1423.8 185.3 L1428.5 189.1 L1433 193.1 L1437.6 197 L1442.1 201 L1446.6 205 L1451.1 209.1 L1455.5 213.1 L1459.9 217.3 L1464.3 221.4 L1468.7 225.6 L1473 229.8 L1477.3 234.1 L1481.6 238.3 L1485.8 242.7 L1490 247 L1494.2 251.4 L1498.4 255.8 L1502.5 260.2 L1506.7 264.7 L1510.7 269.2 L1514.8 273.7 L1518.8 278.2 L1522.8 282.8 L1526.8 287.4 L1530.7 292 L1534.6 296.7 L1538.5 301.4 L1542.3 306.1 L1546.2 310.9 L1549.9 315.6 L1553.7 320.4 L1557.4 325.2 L1561.1 330.1 L1564.7 335 L1568.4 339.9 L1571.9 344.8 L1575.5 349.7 L1579 354.7 L1582.5 359.7 L1585.9 364.7 L1589.3 369.8 L1592.7 374.8 L1596.1 379.9 L1599.4 385 L1602.6 390.2 L1605.9 395.3 L1609 400.5 L1612.2 405.7 L1615.3 410.9 L1618.4 416.2 L1621.4 421.4 L1624.4 426.7 L1627.4 432 L1630.3 437.3 L1633.2 442.7 L1636 448 L1638.8 453.4 L1641.6 458.8 L1644.3 464.2 L1647 469.6 L1649.6 475.1"/>
<path class="k" stroke-width="4.2" d="M1274 97.9 L1274.5 104.1 L1275.2 110.3 L1276.3 116.4 L1278.2 122.1 L1280.8 127.5 L1284.3 132.3 L1288.4 136.6 L1293.2 140.6 L1298.2 144.3 L1303.2 147.9 L1308.2 151.5 L1313.2 155.1 L1318.2 158.7 L1323.2 162.2 L1328.1 165.8 L1333.1 169.4 L1338.1 173 L1343.1 176.5 L1348 180.1 L1353 183.7 L1357.9 187.3 L1362.9 191 L1367.8 194.6 L1372.7 198.3 L1377.6 201.9 L1382.5 205.6 L1387.3 209.3 L1392.2 213.1 L1397 216.8 L1401.8 220.6 L1406.6 224.4 L1411.3 228.3 L1416 232.1 L1420.7 236 L1425.4 239.9 L1430.1 243.9 L1434.7 247.9 L1439.3 251.9 L1443.9 256 L1448.4 260.1 L1452.9 264.2 L1457.4 268.4 L1461.8 272.5 L1466.2 276.8 L1470.6 281 L1475 285.3 L1479.3 289.6 L1483.6 294 L1487.9 298.4 L1492.1 302.8 L1496.3 307.2 L1500.5 311.7 L1504.6 316.2 L1508.7 320.8 L1512.8 325.3 L1516.8 329.9 L1520.8 334.5 L1524.7 339.2 L1528.7 343.9 L1532.6 348.6 L1536.4 353.3 L1540.3 358.1 L1544.1 362.9 L1547.8 367.7 L1551.5 372.6 L1555.2 377.4 L1558.9 382.3 L1562.5 387.3 L1566 392.2 L1569.6 397.2 L1573.1 402.2 L1576.5 407.2 L1580 412.3 L1583.4 417.4 L1586.7 422.5 L1590 427.6 L1593.3 432.8 L1596.5 437.9 L1599.7 443.1 L1602.9 448.4 L1606 453.6 L1609 458.9 L1612.1 464.2 L1615.1 469.5 L1618 474.8"/>
<path class="r" stroke-width="3.4" d="M1274 97.9 L1274.5 104.1 L1275.2 110.3 L1276.3 116.4 L1278.2 122.1 L1280.8 127.5 L1284.3 132.3 L1288.4 136.6 L1293.2 140.6 L1298.2 144.3 L1303.2 147.9 L1308.2 151.5 L1313.2 155.1 L1318.2 158.7 L1323.2 162.2 L1328.1 165.8 L1333.1 169.4 L1338.1 173 L1343.1 176.5 L1348 180.1 L1353 183.7 L1357.9 187.3 L1362.9 191 L1367.8 194.6 L1372.7 198.3 L1377.6 201.9 L1382.5 205.6 L1387.3 209.3 L1392.2 213.1 L1397 216.8 L1401.8 220.6 L1406.6 224.4 L1411.3 228.3 L1416 232.1 L1420.7 236 L1425.4 239.9 L1430.1 243.9 L1434.7 247.9 L1439.3 251.9 L1443.9 256 L1448.4 260.1 L1452.9 264.2 L1457.4 268.4 L1461.8 272.5 L1466.2 276.8 L1470.6 281 L1475 285.3 L1479.3 289.6 L1483.6 294 L1487.9 298.4 L1492.1 302.8 L1496.3 307.2 L1500.5 311.7 L1504.6 316.2 L1508.7 320.8 L1512.8 325.3 L1516.8 329.9 L1520.8 334.5 L1524.7 339.2 L1528.7 343.9 L1532.6 348.6 L1536.4 353.3 L1540.3 358.1 L1544.1 362.9 L1547.8 367.7 L1551.5 372.6 L1555.2 377.4 L1558.9 382.3 L1562.5 387.3 L1566 392.2 L1569.6 397.2 L1573.1 402.2 L1576.5 407.2 L1580 412.3 L1583.4 417.4 L1586.7 422.5 L1590 427.6 L1593.3 432.8 L1596.5 437.9 L1599.7 443.1 L1602.9 448.4 L1606 453.6 L1609 458.9 L1612.1 464.2 L1615.1 469.5 L1618 474.8"/>
<path class="k" stroke-width="4.2" d="M1273.9 157.3 L1274.2 163.3 L1274.4 169.4 L1274.7 175.7 L1275 181.9 L1275.6 188.1 L1276.5 194.3 L1277.9 200.2 L1279.8 205.9 L1282.3 211.4 L1285.2 216.7 L1288.5 221.7 L1292.2 226.5 L1296.2 231.2 L1300.4 235.7 L1304.7 240.1 L1309.2 244.3 L1313.7 248.4 L1318.4 252.4 L1323.1 256.3 L1327.9 260.1 L1332.8 263.9 L1337.7 267.5 L1342.7 271.1 L1347.7 274.7 L1352.8 278.2 L1357.8 281.7 L1362.9 285.2 L1368 288.7 L1373.1 292.2 L1378.1 295.7 L1383.2 299.2 L1388.2 302.8 L1393.1 306.4 L1398 310.1 L1402.9 313.8 L1407.7 317.6 L1412.4 321.5 L1417.1 325.3 L1421.7 329.3 L1426.3 333.3 L1430.9 337.4 L1435.4 341.5 L1439.8 345.6 L1444.2 349.8 L1448.6 354.1 L1452.9 358.3 L1457.2 362.7 L1461.4 367 L1465.7 371.4 L1469.8 375.9 L1474 380.4 L1478.1 384.9 L1482.1 389.4 L1486.2 394 L1490.2 398.6 L1494.2 403.2 L1498.2 407.9 L1502.1 412.6 L1506 417.3 L1509.9 422 L1513.8 426.7 L1517.6 431.5 L1521.5 436.3 L1525.3 441.1 L1529.1 445.9 L1532.9 450.7 L1536.6 455.6 L1540.4 460.4 L1544.2 465.3 L1547.9 470.2 L1551.7 475"/>
<path class="r" stroke-width="3.4" d="M1273.9 157.3 L1274.2 163.3 L1274.4 169.4 L1274.7 175.7 L1275 181.9 L1275.6 188.1 L1276.5 194.3 L1277.9 200.2 L1279.8 205.9 L1282.3 211.4 L1285.2 216.7 L1288.5 221.7 L1292.2 226.5 L1296.2 231.2 L1300.4 235.7 L1304.7 240.1 L1309.2 244.3 L1313.7 248.4 L1318.4 252.4 L1323.1 256.3 L1327.9 260.1 L1332.8 263.9 L1337.7 267.5 L1342.7 271.1 L1347.7 274.7 L1352.8 278.2 L1357.8 281.7 L1362.9 285.2 L1368 288.7 L1373.1 292.2 L1378.1 295.7 L1383.2 299.2 L1388.2 302.8 L1393.1 306.4 L1398 310.1 L1402.9 313.8 L1407.7 317.6 L1412.4 321.5 L1417.1 325.3 L1421.7 329.3 L1426.3 333.3 L1430.9 337.4 L1435.4 341.5 L1439.8 345.6 L1444.2 349.8 L1448.6 354.1 L1452.9 358.3 L1457.2 362.7 L1461.4 367 L1465.7 371.4 L1469.8 375.9 L1474 380.4 L1478.1 384.9 L1482.1 389.4 L1486.2 394 L1490.2 398.6 L1494.2 403.2 L1498.2 407.9 L1502.1 412.6 L1506 417.3 L1509.9 422 L1513.8 426.7 L1517.6 431.5 L1521.5 436.3 L1525.3 441.1 L1529.1 445.9 L1532.9 450.7 L1536.6 455.6 L1540.4 460.4 L1544.2 465.3 L1547.9 470.2 L1551.7 475"/>
<path class="k" stroke-width="4.2" d="M1273.9 239.9 L1273.7 246.2 L1273.9 252.5 L1274.4 258.7 L1275.3 264.9 L1276.5 271 L1278.2 276.9 L1280.3 282.7 L1282.8 288.3 L1285.7 293.8 L1288.9 299.1 L1292.4 304.2 L1296.1 309.1 L1300 314 L1304.1 318.7 L1308.3 323.2 L1312.6 327.7 L1317.1 332 L1321.7 336.3 L1326.4 340.4 L1331.1 344.5 L1335.9 348.6 L1340.8 352.5 L1345.7 356.5 L1350.5 360.4 L1355.4 364.3 L1360.3 368.1 L1365.2 372 L1370.1 375.8 L1374.9 379.7 L1379.7 383.5 L1384.6 387.4 L1389.4 391.3 L1394.1 395.1 L1398.9 399 L1403.6 402.9 L1408.3 406.8 L1413 410.8 L1417.7 414.7 L1422.3 418.8 L1426.9 422.8 L1431.5 426.9 L1436.1 431 L1440.6 435.2 L1445.1 439.4 L1449.6 443.7 L1454 448 L1458.4 452.4 L1462.8 456.8 L1467.1 461.3 L1471.4 465.9 L1475.6 470.6 L1479.8 475.3"/>
<path class="r" stroke-width="3.4" d="M1273.9 239.9 L1273.7 246.2 L1273.9 252.5 L1274.4 258.7 L1275.3 264.9 L1276.5 271 L1278.2 276.9 L1280.3 282.7 L1282.8 288.3 L1285.7 293.8 L1288.9 299.1 L1292.4 304.2 L1296.1 309.1 L1300 314 L1304.1 318.7 L1308.3 323.2 L1312.6 327.7 L1317.1 332 L1321.7 336.3 L1326.4 340.4 L1331.1 344.5 L1335.9 348.6 L1340.8 352.5 L1345.7 356.5 L1350.5 360.4 L1355.4 364.3 L1360.3 368.1 L1365.2 372 L1370.1 375.8 L1374.9 379.7 L1379.7 383.5 L1384.6 387.4 L1389.4 391.3 L1394.1 395.1 L1398.9 399 L1403.6 402.9 L1408.3 406.8 L1413 410.8 L1417.7 414.7 L1422.3 418.8 L1426.9 422.8 L1431.5 426.9 L1436.1 431 L1440.6 435.2 L1445.1 439.4 L1449.6 443.7 L1454 448 L1458.4 452.4 L1462.8 456.8 L1467.1 461.3 L1471.4 465.9 L1475.6 470.6 L1479.8 475.3"/>
<path class="k" stroke-width="4.2" d="M1273.8 303.2 L1274.5 309.3 L1274.9 315.6 L1275.1 322 L1275.2 328.5 L1275.5 334.9 L1275.9 341.4 L1276.5 347.7 L1277.6 353.9 L1279.2 360 L1281.2 365.9 L1283.7 371.6 L1286.6 377.1 L1289.9 382.5 L1293.5 387.7 L1297.3 392.8 L1301.4 397.8 L1305.6 402.7 L1309.9 407.4 L1314.2 412.1 L1318.7 416.7 L1323.2 421.2 L1327.8 425.6 L1332.5 430 L1337.2 434.3 L1342 438.5 L1346.8 442.6 L1351.6 446.7 L1356.5 450.7 L1361.3 454.7 L1366.2 458.6 L1371 462.5 L1375.8 466.3 L1380.6 470.1 L1385.4 473.9"/>
<path class="r" stroke-width="3.4" d="M1273.8 303.2 L1274.5 309.3 L1274.9 315.6 L1275.1 322 L1275.2 328.5 L1275.5 334.9 L1275.9 341.4 L1276.5 347.7 L1277.6 353.9 L1279.2 360 L1281.2 365.9 L1283.7 371.6 L1286.6 377.1 L1289.9 382.5 L1293.5 387.7 L1297.3 392.8 L1301.4 397.8 L1305.6 402.7 L1309.9 407.4 L1314.2 412.1 L1318.7 416.7 L1323.2 421.2 L1327.8 425.6 L1332.5 430 L1337.2 434.3 L1342 438.5 L1346.8 442.6 L1351.6 446.7 L1356.5 450.7 L1361.3 454.7 L1366.2 458.6 L1371 462.5 L1375.8 466.3 L1380.6 470.1 L1385.4 473.9"/>
</g>
<rect class="fr" x="1273.4" y="15.2" width="458.6" height="455.6"/>
<text class="tk" text-anchor="end" transform="translate(1263.6 416.7) scale(1 1.045)">3.2</text>
<text class="tk" text-anchor="end" transform="translate(1263.6 276.5) scale(1 1.045)">3.6</text>
<text class="tk" text-anchor="end" transform="translate(1263.6 136.3) scale(1 1.045)">4.0</text>
<text class="tk" text-anchor="middle" transform="translate(1273.1 509.1) scale(1 1.045)">0.0</text>
<text class="tk" text-anchor="middle" transform="translate(1387.8 509.1) scale(1 1.045)">0.5</text>
<text class="tk" text-anchor="middle" transform="translate(1502.4 509.1) scale(1 1.045)">1.0</text>
<text class="tk" text-anchor="middle" transform="translate(1617 509.1) scale(1 1.045)">1.5</text>
<text class="tk" text-anchor="middle" transform="translate(1731.7 509.1) scale(1 1.045)">2.0</text>
<text class="pl" text-anchor="end" transform="translate(1724.8 56.4) scale(1 0.965)">(c)</text>
<clipPath id="cpd"><rect x="126.2" y="539.1" width="458.8" height="456.2"/></clipPath>
<line class="t" x1="240.9" y1="995.3" x2="240.9" y2="987.7"/>
<line class="t" x1="355.6" y1="995.3" x2="355.6" y2="987.7"/>
<line class="t" x1="470.3" y1="995.3" x2="470.3" y2="987.7"/>
<line class="t" x1="126.2" y1="925.1" x2="133.8" y2="925.1"/>
<line class="t" x1="126.2" y1="784.7" x2="133.8" y2="784.7"/>
<line class="t" x1="126.2" y1="644.4" x2="133.8" y2="644.4"/>
<g clip-path="url(#cpd)">
<path class="r" stroke-width="3.7" d="M126.5 575.1 L127.7 580.9 L128.6 586.9 L129.5 593 L130.3 599.1 L131.3 605.3 L132.5 611.4 L134 617.4 L136.1 623.2 L138.6 628.7 L141.8 633.7 L145.7 638.3 L150.2 642.2 L155.1 645.7 L160.4 648.9 L165.9 651.7 L171.5 654.5 L177 657.4 L182.4 660.3 L187.7 663.3 L193 666.3 L198.3 669.3 L203.5 672.5 L208.7 675.6 L213.9 678.8 L219 682.1 L224.2 685.4 L229.4 688.7 L234.6 692.1 L239.6 695.6 L244.6 699.3 L249.4 703.1 L253.9 707.2 L258.1 711.5 L261.9 716.2 L265.4 721.2 L268.8 726.3 L272 731.6 L275.3 736.8 L278.6 741.9 L282.1 746.9 L285.8 751.7 L289.8 756.3 L294.1 760.7 L298.5 764.9 L302.9 769.1 L307.4 773.3 L311.8 777.5 L316.2 781.8 L320.6 786.1 L324.9 790.3 L329.3 794.6 L333.7 798.9 L338.1 803.1 L342.5 807.4 L346.9 811.7 L351.3 816 L355.6 820.3 L359.9 824.7 L364.1 829.1 L368.3 833.7 L372.3 838.3 L376.2 843 L379.9 847.9 L383.5 852.8 L387 857.9 L390.3 863 L393.5 868.3 L396.4 873.6 L399.2 879 L401.8 884.6 L404.2 890.2 L406.4 895.9 L408.4 901.6 L410.1 907.5 L411.6 913.4 L412.9 919.3 L414 925.3 L414.8 931.4 L415.4 937.5 L415.9 943.7 L416.3 949.9 L416.5 956.1 L416.7 962.2 L416.8 968.4 L416.9 974.6 L417 980.7 L417.2 986.8 L417.4 992.8 L417.8 998.8"/>
<path class="r" stroke-width="3.7" d="M126.5 640 L128.1 645.9 L128.9 652 L129.5 658.1 L130.4 664.3 L131.9 670.2 L134.3 675.8 L137.5 680.8 L141.5 685.4 L145.9 689.7 L150.3 694.1 L154.4 698.7 L158.3 703.4 L162.2 708 L166.2 712.6 L170.4 717 L174.7 721.3 L179.2 725.4 L183.7 729.6 L188.2 733.8 L192.7 738 L197.3 742.1 L202 746.1 L206.7 749.9 L211.7 753.5 L216.7 757 L221.8 760.4 L227 763.7 L232.1 767 L237.2 770.3 L242.3 773.8 L247.3 777.4 L252.2 781 L257 784.7 L261.8 788.6 L266.5 792.5 L271.1 796.5 L275.7 800.5 L280.2 804.7 L284.6 808.9 L288.9 813.3 L293.2 817.7 L297.4 822.1 L301.5 826.7 L305.5 831.3 L309.4 836 L313.2 840.8 L316.9 845.6 L320.6 850.5 L324.2 855.5 L327.7 860.5 L331.2 865.6 L334.6 870.7 L337.9 875.8 L341.2 881 L344.4 886.2 L347.7 891.4 L350.9 896.6 L354 901.9 L357.1 907.2 L360.2 912.5 L363.3 917.8 L366.3 923.1 L369.3 928.4 L372.3 933.7 L375.2 939.1 L378.2 944.5 L381.1 949.9 L384 955.3 L386.8 960.7 L389.7 966.1 L392.5 971.5 L395.3 977 L398.1 982.4 L400.9 987.9 L403.7 993.3 L406.5 998.8"/>
<path class="r" stroke-width="3.7" d="M126.7 685.6 L126.8 691.8 L127.1 697.9 L127.5 704.1 L128.1 710.2 L129.1 716.2 L130.4 722.1 L132.2 727.9 L134.4 733.6 L136.9 739.1 L139.8 744.5 L142.9 749.8 L146.2 755 L149.7 760.1 L153.3 765.1 L157 770 L160.9 774.7 L164.9 779.3 L169.1 783.8 L173.3 788.2 L177.7 792.5 L182.1 796.7 L186.6 800.8 L191.1 804.9 L195.7 809 L200.3 813.1 L204.9 817.1 L209.5 821.1 L214.1 825.2 L218.7 829.2 L223.3 833.3 L227.8 837.4 L232.3 841.6 L236.7 845.8 L241.1 850.1 L245.4 854.5 L249.6 858.9 L253.7 863.4 L257.7 868 L261.7 872.7 L265.6 877.5 L269.4 882.3 L273.2 887.1 L276.9 892 L280.5 896.9 L284.2 901.9 L287.7 906.9 L291.3 911.9 L294.9 916.9 L298.4 921.9 L301.9 926.9 L305.4 931.9 L308.8 937 L312.2 942 L315.6 947.1 L319 952.2 L322.4 957.3 L325.7 962.5 L329 967.6 L332.3 972.8 L335.5 978 L338.8 983.2 L342 988.4 L345.1 993.7 L348.3 999"/>
<path class="r" stroke-width="3.7" d="M126.6 785.1 L127.1 791.2 L127.3 797.5 L127.6 803.8 L127.8 810.2 L128 816.6 L128.5 822.9 L129.1 829.3 L130 835.5 L131.2 841.6 L132.8 847.7 L134.8 853.5 L137.2 859.3 L139.9 864.9 L143 870.3 L146.3 875.7 L149.7 880.9 L153.3 886.1 L156.9 891.3 L160.5 896.5 L164.2 901.6 L167.9 906.7 L171.6 911.8 L175.3 916.9 L179 922 L182.7 927.1 L186.4 932.1 L190.2 937.2 L193.9 942.3 L197.6 947.3 L201.3 952.4 L205 957.5 L208.6 962.6 L212.3 967.7 L215.9 972.8 L219.5 978 L223.1 983.2 L226.6 988.4 L230.1 993.6 L233.6 998.9"/>
<path class="r" stroke-width="3.7" d="M126.6 879.9 L127 886.3 L127.3 892.8 L127.5 899.4 L127.8 906 L128.1 912.6 L128.4 919.2 L128.9 925.8 L129.5 932.4 L130.2 938.9 L131.2 945.4 L132.4 951.9 L133.9 958.2 L135.8 964.4 L138 970.5 L140.5 976.5 L143.5 982.4 L146.9 988 L150.7 993.5 L155 998.8"/>
<path class="k" stroke-width="4.6" d="M126.5 600 L127.5 605.8 L128.6 611.8 L129.7 618 L131.2 624.1 L133.2 629.9 L135.9 635.3 L139.3 640 L143.8 644 L148.9 647.3 L154.3 650.5 L159.5 653.7 L164.5 657.1 L169.5 660.5 L174.5 663.9 L179.6 667.3 L184.8 670.5 L190 673.8 L195.2 677.1 L200.4 680.5 L205.4 684 L210.1 687.7 L214.6 691.7 L218.3 696.3 L221.3 701.6 L224.2 706.9 L227.4 712 L231 716.9 L234.8 721.6 L238.9 726.1 L243.2 730.5 L247.6 734.7 L252 738.9 L256.5 743 L261 747.1 L265.5 751.2 L269.9 755.2 L274.4 759.3 L278.8 763.4 L283.2 767.6 L287.7 771.8 L292.2 776.1 L296.6 780.5 L301 785 L305 789.6 L308.7 794.5 L311.8 799.6 L314.5 805 L316.6 810.5 L318.3 816.2 L319.7 822.1 L320.8 828.1 L321.6 834.2 L322.3 840.3 L322.8 846.4 L323.2 852.6 L323.6 858.7 L323.9 864.8 L324.1 871 L324.4 877.1 L324.5 883.2 L324.7 889.2 L324.8 895.3 L324.8 901.4 L324.9 907.5 L324.9 913.6 L324.9 919.6 L324.9 925.7 L324.9 931.8 L324.9 937.9 L324.8 943.9 L324.8 950 L324.8 956.1 L324.8 962.2 L324.9 968.3 L324.9 974.4 L325 980.5 L325.1 986.6 L325.3 992.8 L325.4 998.9"/>
<path class="k" stroke-width="4.6" d="M126.4 664 L127.1 670.4 L129 676.1 L131.7 681.5 L135.1 686.6 L138.6 691.6 L142.1 696.6 L145.4 701.8 L148.5 707.2 L151.5 712.6 L154.6 717.9 L157.9 722.9 L161.6 727.8 L165.6 732.3 L169.8 736.7 L174.3 741 L178.8 745.1 L183.5 749.1 L188.2 753.1 L192.9 757.1 L197.6 761.1 L202.3 765.1 L207 769.1 L211.6 773.2 L216.2 777.4 L220.6 781.6 L224.9 786 L229.2 790.4 L233.4 794.9 L237.4 799.5 L241.4 804.1 L245.3 808.9 L249.1 813.7 L252.8 818.6 L256.4 823.5 L260 828.5 L263.4 833.6 L266.8 838.7 L270.2 843.9 L273.4 849.1 L276.6 854.4 L279.7 859.7 L282.7 865 L285.7 870.4 L288.6 875.9 L291.5 881.4 L294.2 886.9 L297 892.4 L299.6 898 L302.2 903.5 L304.8 909.1 L307.2 914.8 L309.5 920.5 L311.7 926.2 L313.7 932 L315.5 937.8 L317 943.7 L318.3 949.7 L319.2 955.8 L319.9 961.9 L320.4 968.1 L320.6 974.3 L320.8 980.5 L320.9 986.7 L321 992.8 L321.2 998.8"/>
<path class="k" stroke-width="4.6" d="M126.5 719.4 L126.3 725.7 L127.9 731.6 L130.3 737.2 L132.7 742.9 L134.8 748.7 L136.7 754.6 L139.1 760.3 L141.7 765.9 L144.6 771.3 L147.7 776.6 L150.9 781.8 L154.2 786.9 L157.7 792 L161.2 797.1 L164.8 802.1 L168.4 807.1 L172 812.1 L175.7 817 L179.4 822 L183.1 826.9 L186.7 831.9 L190.3 836.9 L193.9 841.9 L197.3 847 L200.8 852.1 L204.1 857.3 L207.4 862.5 L210.7 867.7 L213.8 873 L217 878.3 L220.1 883.6 L223.1 889 L226.1 894.4 L229.1 899.8 L232 905.2 L234.9 910.6 L237.7 916.1 L240.6 921.6 L243.4 927.1 L246.2 932.6 L248.9 938.1 L251.7 943.6 L254.4 949.1 L257.2 954.7 L259.9 960.2 L262.6 965.7 L265.3 971.2 L268 976.8 L270.8 982.3 L273.5 987.8 L276.2 993.3 L279 998.8"/>
<path class="k" stroke-width="4.6" d="M126.6 816.6 L126.7 822.9 L126.9 829.1 L127.3 835.4 L127.9 841.6 L128.7 847.7 L129.6 853.9 L130.7 860 L132 866 L133.6 872 L135.3 878 L137.2 883.9 L139.2 889.7 L141.4 895.5 L143.7 901.3 L146.1 907.1 L148.5 912.8 L151 918.5 L153.5 924.2 L156 929.9 L158.4 935.7 L160.9 941.4 L163.3 947.1 L165.7 952.8 L168.1 958.5 L170.5 964.3 L172.9 970 L175.3 975.8 L177.6 981.5 L179.9 987.3 L182.2 993.1 L184.5 998.9"/>
<path class="k" stroke-width="4.6" d="M126.5 932.5 L126.8 938.6 L127.1 944.7 L127.6 950.8 L128.1 956.9 L128.9 962.9 L129.7 969 L130.7 975 L131.8 981 L133.1 987 L134.5 992.9 L136 998.8"/>
</g>
<rect class="fr" x="126.2" y="539.1" width="458.8" height="456.2"/>
<text class="tk" text-anchor="end" transform="translate(116.4 941.1) scale(1 1.045)">3.2</text>
<text class="tk" text-anchor="end" transform="translate(116.4 800.7) scale(1 1.045)">3.6</text>
<text class="tk" text-anchor="end" transform="translate(116.4 660.4) scale(1 1.045)">4.0</text>
<text class="tk" text-anchor="middle" transform="translate(125.9 1033.9) scale(1 1.045)">0.0</text>
<text class="tk" text-anchor="middle" transform="translate(240.6 1033.9) scale(1 1.045)">0.5</text>
<text class="tk" text-anchor="middle" transform="translate(355.3 1033.9) scale(1 1.045)">1.0</text>
<text class="tk" text-anchor="middle" transform="translate(470 1033.9) scale(1 1.045)">1.5</text>
<text class="tk" text-anchor="middle" transform="translate(584.7 1033.9) scale(1 1.045)">2.0</text>
<text class="pl" text-anchor="end" transform="translate(576.5 583.5) scale(1 0.965)">(d)</text>
<clipPath id="cpe"><rect x="702.3" y="539.2" width="458.4" height="455.7"/></clipPath>
<line class="t" x1="816.9" y1="994.9" x2="816.9" y2="987.3"/>
<line class="t" x1="931.5" y1="994.9" x2="931.5" y2="987.3"/>
<line class="t" x1="1046.1" y1="994.9" x2="1046.1" y2="987.3"/>
<line class="t" x1="702.3" y1="924.8" x2="709.9" y2="924.8"/>
<line class="t" x1="702.3" y1="784.6" x2="709.9" y2="784.6"/>
<line class="t" x1="702.3" y1="644.4" x2="709.9" y2="644.4"/>
<g clip-path="url(#cpe)">
<path class="k" stroke-width="4.2" d="M702.2 569 L705.5 574.2 L709.5 578.7 L713.9 582.8 L718.7 586.5 L723.5 590.2 L728.5 593.8 L733.5 597.2 L738.5 600.6 L743.6 603.9 L748.8 607.2 L754 610.4 L759.2 613.6 L764.4 616.8 L769.6 620 L774.8 623.2 L780 626.4 L785.2 629.6 L790.4 632.9 L795.6 636.2 L800.7 639.5 L805.8 642.9 L810.9 646.3 L816 649.8 L821 653.3 L826 656.8 L831 660.4 L836 664 L840.9 667.6 L845.8 671.3 L850.7 675 L855.6 678.7 L860.4 682.5 L865.2 686.3 L869.9 690.2 L874.7 694 L879.4 698 L884 701.9 L888.6 705.9 L893.2 710 L897.8 714 L902.3 718.1 L906.8 722.3 L911.2 726.5 L915.6 730.7 L920 734.9 L924.3 739.2 L928.6 743.5 L932.9 747.9 L937.1 752.3 L941.2 756.7 L945.4 761.2 L949.5 765.7 L953.6 770.2 L957.6 774.7 L961.6 779.3 L965.5 783.9 L969.5 788.6 L973.4 793.3 L977.2 798 L981 802.7 L984.8 807.5 L988.6 812.3 L992.3 817.1 L996 821.9 L999.6 826.8 L1003.2 831.7 L1006.8 836.6 L1010.3 841.6 L1013.8 846.6 L1017.3 851.6 L1020.7 856.6 L1024.2 861.7 L1027.5 866.7 L1030.9 871.8 L1034.2 877 L1037.5 882.1 L1040.7 887.3 L1043.9 892.5 L1047.1 897.7 L1050.2 902.9 L1053.4 908.1 L1056.4 913.4 L1059.5 918.7 L1062.5 924 L1065.5 929.3 L1068.5 934.6 L1071.4 940 L1074.3 945.4 L1077.2 950.7 L1080 956.1 L1082.8 961.6 L1085.6 967 L1088.4 972.4 L1091.1 977.9 L1093.8 983.4 L1096.4 988.8 L1099.1 994.3 L1101.7 999.9"/>
<path class="r" stroke-width="3.4" d="M702.2 569 L705.5 574.2 L709.5 578.7 L713.9 582.8 L718.7 586.5 L723.5 590.2 L728.5 593.8 L733.5 597.2 L738.5 600.6 L743.6 603.9 L748.8 607.2 L754 610.4 L759.2 613.6 L764.4 616.8 L769.6 620 L774.8 623.2 L780 626.4 L785.2 629.6 L790.4 632.9 L795.6 636.2 L800.7 639.5 L805.8 642.9 L810.9 646.3 L816 649.8 L821 653.3 L826 656.8 L831 660.4 L836 664 L840.9 667.6 L845.8 671.3 L850.7 675 L855.6 678.7 L860.4 682.5 L865.2 686.3 L869.9 690.2 L874.7 694 L879.4 698 L884 701.9 L888.6 705.9 L893.2 710 L897.8 714 L902.3 718.1 L906.8 722.3 L911.2 726.5 L915.6 730.7 L920 734.9 L924.3 739.2 L928.6 743.5 L932.9 747.9 L937.1 752.3 L941.2 756.7 L945.4 761.2 L949.5 765.7 L953.6 770.2 L957.6 774.7 L961.6 779.3 L965.5 783.9 L969.5 788.6 L973.4 793.3 L977.2 798 L981 802.7 L984.8 807.5 L988.6 812.3 L992.3 817.1 L996 821.9 L999.6 826.8 L1003.2 831.7 L1006.8 836.6 L1010.3 841.6 L1013.8 846.6 L1017.3 851.6 L1020.7 856.6 L1024.2 861.7 L1027.5 866.7 L1030.9 871.8 L1034.2 877 L1037.5 882.1 L1040.7 887.3 L1043.9 892.5 L1047.1 897.7 L1050.2 902.9 L1053.4 908.1 L1056.4 913.4 L1059.5 918.7 L1062.5 924 L1065.5 929.3 L1068.5 934.6 L1071.4 940 L1074.3 945.4 L1077.2 950.7 L1080 956.1 L1082.8 961.6 L1085.6 967 L1088.4 972.4 L1091.1 977.9 L1093.8 983.4 L1096.4 988.8 L1099.1 994.3 L1101.7 999.9"/>
<path class="k" stroke-width="4.2" d="M702.8 603.9 L703.4 610 L704.5 616.1 L706 622 L708.1 627.8 L710.7 633.3 L713.7 638.6 L717.1 643.5 L720.9 648.2 L725.1 652.7 L729.5 656.9 L734.1 661 L738.8 664.9 L743.7 668.7 L748.6 672.4 L753.5 676.1 L758.5 679.7 L763.5 683.3 L768.5 686.8 L773.6 690.3 L778.6 693.8 L783.7 697.2 L788.8 700.6 L793.9 703.9 L798.9 707.3 L804 710.7 L809.1 714 L814.2 717.4 L819.3 720.7 L824.3 724.1 L829.3 727.5 L834.3 731 L839.3 734.4 L844.3 738 L849.2 741.5 L854.1 745.1 L859 748.8 L863.8 752.5 L868.6 756.2 L873.4 760 L878.1 763.8 L882.8 767.7 L887.5 771.6 L892.1 775.6 L896.7 779.5 L901.3 783.6 L905.8 787.7 L910.3 791.8 L914.8 795.9 L919.2 800.1 L923.6 804.4 L928 808.7 L932.3 813 L936.6 817.3 L940.9 821.7 L945.1 826.1 L949.3 830.6 L953.4 835.1 L957.6 839.6 L961.6 844.2 L965.7 848.8 L969.7 853.4 L973.6 858.1 L977.6 862.8 L981.5 867.5 L985.3 872.3 L989.1 877 L992.9 881.9 L996.6 886.7 L1000.3 891.6 L1004 896.5 L1007.6 901.4 L1011.2 906.4 L1014.8 911.4 L1018.3 916.4 L1021.7 921.4 L1025.2 926.5 L1028.5 931.6 L1031.9 936.7 L1035.2 941.8 L1038.5 947 L1041.7 952.1 L1044.9 957.3 L1048 962.6 L1051.1 967.8 L1054.2 973.1 L1057.2 978.4 L1060.2 983.7 L1063.1 989 L1066 994.3 L1068.8 999.7"/>
<path class="r" stroke-width="3.4" d="M702.8 603.9 L703.4 610 L704.5 616.1 L706 622 L708.1 627.8 L710.7 633.3 L713.7 638.6 L717.1 643.5 L720.9 648.2 L725.1 652.7 L729.5 656.9 L734.1 661 L738.8 664.9 L743.7 668.7 L748.6 672.4 L753.5 676.1 L758.5 679.7 L763.5 683.3 L768.5 686.8 L773.6 690.3 L778.6 693.8 L783.7 697.2 L788.8 700.6 L793.9 703.9 L798.9 707.3 L804 710.7 L809.1 714 L814.2 717.4 L819.3 720.7 L824.3 724.1 L829.3 727.5 L834.3 731 L839.3 734.4 L844.3 738 L849.2 741.5 L854.1 745.1 L859 748.8 L863.8 752.5 L868.6 756.2 L873.4 760 L878.1 763.8 L882.8 767.7 L887.5 771.6 L892.1 775.6 L896.7 779.5 L901.3 783.6 L905.8 787.7 L910.3 791.8 L914.8 795.9 L919.2 800.1 L923.6 804.4 L928 808.7 L932.3 813 L936.6 817.3 L940.9 821.7 L945.1 826.1 L949.3 830.6 L953.4 835.1 L957.6 839.6 L961.6 844.2 L965.7 848.8 L969.7 853.4 L973.6 858.1 L977.6 862.8 L981.5 867.5 L985.3 872.3 L989.1 877 L992.9 881.9 L996.6 886.7 L1000.3 891.6 L1004 896.5 L1007.6 901.4 L1011.2 906.4 L1014.8 911.4 L1018.3 916.4 L1021.7 921.4 L1025.2 926.5 L1028.5 931.6 L1031.9 936.7 L1035.2 941.8 L1038.5 947 L1041.7 952.1 L1044.9 957.3 L1048 962.6 L1051.1 967.8 L1054.2 973.1 L1057.2 978.4 L1060.2 983.7 L1063.1 989 L1066 994.3 L1068.8 999.7"/>
<path class="k" stroke-width="4.2" d="M702.9 659.9 L703.4 666.1 L704.1 672.3 L705.2 678.3 L706.6 684.2 L708.6 689.9 L711.2 695.4 L714.3 700.7 L717.8 705.7 L721.6 710.5 L725.7 715.2 L730 719.7 L734.4 724 L738.9 728.2 L743.5 732.3 L748.2 736.2 L752.9 740 L757.8 743.7 L762.7 747.4 L767.7 750.9 L772.7 754.4 L777.8 757.8 L782.9 761.2 L788.1 764.5 L793.3 767.8 L798.5 771.1 L803.7 774.4 L808.9 777.7 L814.1 781 L819.3 784.3 L824.5 787.6 L829.7 790.9 L834.8 794.2 L840 797.6 L845.2 800.9 L850.3 804.3 L855.4 807.7 L860.5 811.2 L865.6 814.7 L870.6 818.2 L875.6 821.8 L880.6 825.4 L885.5 829 L890.4 832.7 L895.3 836.4 L900.1 840.2 L904.8 844 L909.5 847.9 L914.2 851.9 L918.8 855.9 L923.4 860 L927.9 864.2 L932.3 868.4 L936.7 872.7 L941 877 L945.2 881.5 L949.4 886 L953.5 890.5 L957.6 895.1 L961.6 899.8 L965.6 904.5 L969.5 909.2 L973.4 914 L977.3 918.8 L981 923.7 L984.8 928.6 L988.5 933.6 L992.1 938.5 L995.8 943.5 L999.4 948.5 L1002.9 953.6 L1006.4 958.6 L1009.9 963.7 L1013.4 968.8 L1016.8 973.9 L1020.2 979 L1023.5 984.1 L1026.9 989.2 L1030.2 994.3 L1033.5 999.4"/>
<path class="r" stroke-width="3.4" d="M702.9 659.9 L703.4 666.1 L704.1 672.3 L705.2 678.3 L706.6 684.2 L708.6 689.9 L711.2 695.4 L714.3 700.7 L717.8 705.7 L721.6 710.5 L725.7 715.2 L730 719.7 L734.4 724 L738.9 728.2 L743.5 732.3 L748.2 736.2 L752.9 740 L757.8 743.7 L762.7 747.4 L767.7 750.9 L772.7 754.4 L777.8 757.8 L782.9 761.2 L788.1 764.5 L793.3 767.8 L798.5 771.1 L803.7 774.4 L808.9 777.7 L814.1 781 L819.3 784.3 L824.5 787.6 L829.7 790.9 L834.8 794.2 L840 797.6 L845.2 800.9 L850.3 804.3 L855.4 807.7 L860.5 811.2 L865.6 814.7 L870.6 818.2 L875.6 821.8 L880.6 825.4 L885.5 829 L890.4 832.7 L895.3 836.4 L900.1 840.2 L904.8 844 L909.5 847.9 L914.2 851.9 L918.8 855.9 L923.4 860 L927.9 864.2 L932.3 868.4 L936.7 872.7 L941 877 L945.2 881.5 L949.4 886 L953.5 890.5 L957.6 895.1 L961.6 899.8 L965.6 904.5 L969.5 909.2 L973.4 914 L977.3 918.8 L981 923.7 L984.8 928.6 L988.5 933.6 L992.1 938.5 L995.8 943.5 L999.4 948.5 L1002.9 953.6 L1006.4 958.6 L1009.9 963.7 L1013.4 968.8 L1016.8 973.9 L1020.2 979 L1023.5 984.1 L1026.9 989.2 L1030.2 994.3 L1033.5 999.4"/>
<path class="k" stroke-width="4.2" d="M702.8 760 L703.6 766 L704.2 772.1 L704.8 778.1 L705.5 784.2 L706.3 790.2 L707.5 796.2 L709.1 802.2 L711.2 808.1 L713.7 813.8 L716.6 819.2 L719.9 824.4 L723.6 829.1 L727.6 833.6 L732 837.7 L736.6 841.6 L741.4 845.2 L746.4 848.6 L751.7 851.8 L757 854.9 L762.5 857.9 L768 860.7 L773.6 863.6 L779.2 866.3 L784.8 869.1 L790.4 871.9 L795.9 874.7 L801.4 877.6 L806.8 880.4 L812.2 883.3 L817.6 886.2 L822.9 889.2 L828.2 892.2 L833.5 895.2 L838.7 898.3 L843.8 901.4 L848.9 904.6 L854 907.9 L859 911.2 L864 914.5 L868.9 917.9 L873.8 921.4 L878.6 925 L883.4 928.6 L888.1 932.4 L892.8 936.2 L897.4 940 L901.9 944 L906.4 948.1 L910.8 952.2 L915.2 956.5 L919.5 960.9 L923.8 965.3 L927.9 969.9 L932 974.6 L936.1 979.4 L940.1 984.3 L944 989.3 L947.8 994.5 L951.6 999.7"/>
<path class="r" stroke-width="3.4" d="M702.8 760 L703.6 766 L704.2 772.1 L704.8 778.1 L705.5 784.2 L706.3 790.2 L707.5 796.2 L709.1 802.2 L711.2 808.1 L713.7 813.8 L716.6 819.2 L719.9 824.4 L723.6 829.1 L727.6 833.6 L732 837.7 L736.6 841.6 L741.4 845.2 L746.4 848.6 L751.7 851.8 L757 854.9 L762.5 857.9 L768 860.7 L773.6 863.6 L779.2 866.3 L784.8 869.1 L790.4 871.9 L795.9 874.7 L801.4 877.6 L806.8 880.4 L812.2 883.3 L817.6 886.2 L822.9 889.2 L828.2 892.2 L833.5 895.2 L838.7 898.3 L843.8 901.4 L848.9 904.6 L854 907.9 L859 911.2 L864 914.5 L868.9 917.9 L873.8 921.4 L878.6 925 L883.4 928.6 L888.1 932.4 L892.8 936.2 L897.4 940 L901.9 944 L906.4 948.1 L910.8 952.2 L915.2 956.5 L919.5 960.9 L923.8 965.3 L927.9 969.9 L932 974.6 L936.1 979.4 L940.1 984.3 L944 989.3 L947.8 994.5 L951.6 999.7"/>
<path class="k" stroke-width="4.2" d="M702.6 870 L704 876.1 L704.7 882.2 L705.1 888.4 L705.5 894.5 L706.1 900.7 L707.3 906.8 L709.2 912.7 L711.8 918.3 L715.4 923.3 L719.8 927.7 L725 931.1 L730.6 933.6 L736.4 935.8 L741.8 938.8 L746.9 942.3 L752 945.9 L757.2 949.2 L762.5 952.3 L767.9 955.2 L773.5 957.9 L779.1 960.5 L784.7 963 L790.4 965.4 L796 967.9 L801.7 970.4 L807.3 973 L812.8 975.6 L818.3 978.4 L823.8 981.4 L829.1 984.4 L834.5 987.6 L839.7 990.8 L844.9 994.2 L850 997.7 L855 1001.3 L860 1005.1"/>
<path class="r" stroke-width="3.4" d="M702.6 870 L704 876.1 L704.7 882.2 L705.1 888.4 L705.5 894.5 L706.1 900.7 L707.3 906.8 L709.2 912.7 L711.8 918.3 L715.4 923.3 L719.8 927.7 L725 931.1 L730.6 933.6 L736.4 935.8 L741.8 938.8 L746.9 942.3 L752 945.9 L757.2 949.2 L762.5 952.3 L767.9 955.2 L773.5 957.9 L779.1 960.5 L784.7 963 L790.4 965.4 L796 967.9 L801.7 970.4 L807.3 973 L812.8 975.6 L818.3 978.4 L823.8 981.4 L829.1 984.4 L834.5 987.6 L839.7 990.8 L844.9 994.2 L850 997.7 L855 1001.3 L860 1005.1"/>
<path class="k" stroke-width="4.2" d="M702.6 955 L702.9 959.1 L703.3 963.2 L703.6 967.3 L703.9 971.4 L704.2 975.5 L704.6 979.6 L704.9 983.6 L705.3 987.7 L705.6 991.8 L706 995.9 L706.4 1000"/>
<path class="r" stroke-width="3.4" d="M702.6 955 L702.9 959.1 L703.3 963.2 L703.6 967.3 L703.9 971.4 L704.2 975.5 L704.6 979.6 L704.9 983.6 L705.3 987.7 L705.6 991.8 L706 995.9 L706.4 1000"/>
</g>
<rect class="fr" x="702.3" y="539.2" width="458.4" height="455.7"/>
<text class="tk" text-anchor="end" transform="translate(692.5 940.8) scale(1 1.045)">3.2</text>
<text class="tk" text-anchor="end" transform="translate(692.5 800.6) scale(1 1.045)">3.6</text>
<text class="tk" text-anchor="end" transform="translate(692.5 660.4) scale(1 1.045)">4.0</text>
<text class="tk" text-anchor="middle" transform="translate(702 1033.5) scale(1 1.045)">0.0</text>
<text class="tk" text-anchor="middle" transform="translate(816.6 1033.5) scale(1 1.045)">0.5</text>
<text class="tk" text-anchor="middle" transform="translate(931.2 1033.5) scale(1 1.045)">1.0</text>
<text class="tk" text-anchor="middle" transform="translate(1045.8 1033.5) scale(1 1.045)">1.5</text>
<text class="tk" text-anchor="middle" transform="translate(1160.4 1033.5) scale(1 1.045)">2.0</text>
<text class="pl" text-anchor="end" transform="translate(1152.5 580.6) scale(1 0.965)">(e)</text>
<clipPath id="cpf"><rect x="1278.2" y="537.3" width="458.5" height="455"/></clipPath>
<line class="t" x1="1392.8" y1="992.3" x2="1392.8" y2="984.7"/>
<line class="t" x1="1507.5" y1="992.3" x2="1507.5" y2="984.7"/>
<line class="t" x1="1622.1" y1="992.3" x2="1622.1" y2="984.7"/>
<line class="t" x1="1278.2" y1="922.3" x2="1285.8" y2="922.3"/>
<line class="t" x1="1278.2" y1="782.3" x2="1285.8" y2="782.3"/>
<line class="t" x1="1278.2" y1="642.3" x2="1285.8" y2="642.3"/>
<g clip-path="url(#cpf)">
<path class="r" stroke-width="3.6" d="M1278.5 567.8 L1279.3 573.8 L1280 579.8 L1280.5 585.8 L1281.1 591.9 L1281.7 598 L1282.6 604.1 L1283.7 610.2 L1285.3 616.2 L1287.4 621.9 L1290.1 627.3 L1293.5 632.2 L1297.5 636.6 L1302 640.5 L1306.9 644.1 L1312 647.4 L1317.2 650.6 L1322.4 653.9 L1327.5 657.2 L1332.6 660.6 L1337.7 664 L1342.7 667.5 L1347.7 670.9 L1352.6 674.5 L1357.5 678.1 L1362.4 681.7 L1367.3 685.3 L1372.1 689 L1377 692.7 L1381.8 696.5 L1386.5 700.2 L1391.3 704 L1396 707.9 L1400.7 711.7 L1405.4 715.6 L1410.1 719.5 L1414.7 723.4 L1419.4 727.3 L1424 731.3 L1428.6 735.2 L1433.2 739.2 L1437.8 743.2 L1442.4 747.2 L1446.9 751.3 L1451.5 755.3 L1456.1 759.3 L1460.6 763.4 L1465.1 767.5 L1469.6 771.5 L1474.1 775.6 L1478.6 779.8 L1483.1 783.9 L1487.5 788.1 L1491.9 792.2 L1496.3 796.4 L1500.7 800.7 L1505.1 804.9 L1509.4 809.2 L1513.7 813.5 L1517.9 817.8 L1522.2 822.2 L1526.4 826.5 L1530.6 830.9 L1534.7 835.4 L1538.8 839.9 L1542.9 844.4 L1546.9 848.9 L1550.9 853.5 L1554.9 858.1 L1558.8 862.8 L1562.7 867.5 L1566.5 872.2 L1570.3 877 L1574 881.8 L1577.7 886.6 L1581.4 891.5 L1585 896.5 L1588.5 901.4 L1592 906.5 L1595.4 911.5 L1598.8 916.6 L1602.1 921.7 L1605.4 926.8 L1608.6 932 L1611.8 937.2 L1614.9 942.5 L1617.9 947.8 L1620.9 953.1 L1623.8 958.4 L1626.6 963.8 L1629.4 969.2 L1632.1 974.6 L1634.7 980.1 L1637.3 985.5 L1639.8 991 L1642.2 996.6"/>
<path class="r" stroke-width="3.6" d="M1278.6 649.7 L1279.4 656 L1280.5 662.2 L1282 668.2 L1283.6 674.2 L1285.6 680 L1287.8 685.8 L1290.3 691.4 L1293 696.9 L1295.9 702.2 L1299.1 707.5 L1302.4 712.7 L1305.9 717.7 L1309.6 722.6 L1313.4 727.4 L1317.4 732.1 L1321.5 736.7 L1325.7 741.2 L1330 745.6 L1334.3 750 L1338.7 754.3 L1343.2 758.6 L1347.6 762.9 L1352.1 767.2 L1356.5 771.6 L1360.9 775.9 L1365.2 780.3 L1369.5 784.8 L1373.7 789.3 L1377.8 793.8 L1381.9 798.4 L1385.9 803.1 L1389.9 807.7 L1393.9 812.5 L1397.8 817.2 L1401.6 822 L1405.4 826.8 L1409.2 831.7 L1412.9 836.6 L1416.6 841.5 L1420.2 846.4 L1423.8 851.4 L1427.4 856.4 L1430.9 861.5 L1434.4 866.5 L1437.9 871.6 L1441.3 876.7 L1444.7 881.8 L1448.1 887 L1451.5 892.2 L1454.8 897.3 L1458.1 902.5 L1461.4 907.7 L1464.7 913 L1468 918.2 L1471.2 923.4 L1474.5 928.7 L1477.7 933.9 L1480.9 939.2 L1484.1 944.5 L1487.3 949.7 L1490.5 955 L1493.7 960.3 L1496.9 965.5 L1500.1 970.8 L1503.3 976.1 L1506.5 981.3 L1509.7 986.6 L1512.9 991.8 L1516.1 997"/>
<path class="r" stroke-width="3.6" d="M1278.5 700.5 L1279.2 706.6 L1279.8 712.8 L1280.2 719 L1280.6 725.2 L1281.1 731.4 L1281.7 737.6 L1282.6 743.8 L1283.7 749.9 L1285.5 755.8 L1288 761.4 L1290.7 767 L1293.4 772.5 L1296.2 778.1 L1299 783.7 L1301.8 789.2 L1304.8 794.7 L1307.8 800.1 L1310.9 805.5 L1314 810.9 L1317.2 816.2 L1320.3 821.5 L1323.5 826.9 L1326.7 832.2 L1329.9 837.5 L1333.1 842.9 L1336.2 848.2 L1339.3 853.6 L1342.5 859 L1345.6 864.4 L1348.6 869.8 L1351.7 875.2 L1354.8 880.6 L1357.8 886 L1360.8 891.4 L1363.8 896.9 L1366.8 902.3 L1369.7 907.8 L1372.6 913.3 L1375.5 918.8 L1378.4 924.3 L1381.3 929.8 L1384.1 935.3 L1387 940.9 L1389.8 946.4 L1392.6 952 L1395.3 957.5 L1398 963.1 L1400.7 968.7 L1403.4 974.3 L1406.1 979.9 L1408.7 985.6 L1411.3 991.2 L1413.9 996.9"/>
<path class="r" stroke-width="3.6" d="M1278.7 825.1 L1278.9 831.5 L1279.3 837.9 L1279.8 844.3 L1280.4 850.7 L1281.2 857 L1282.1 863.4 L1283.2 869.6 L1284.4 875.9 L1285.8 882.1 L1287.3 888.3 L1289 894.4 L1290.8 900.5 L1292.7 906.6 L1294.8 912.6 L1296.9 918.6 L1299.2 924.6 L1301.4 930.6 L1303.7 936.5 L1306.1 942.5 L1308.4 948.4 L1310.7 954.4 L1313 960.3 L1315.2 966.3 L1317.3 972.3 L1319.3 978.4 L1321.1 984.5 L1322.8 990.6 L1324.3 996.8"/>
<path class="r" stroke-width="3.6" d="M1278.5 804.1 L1278.8 810.3 L1279.1 816.5 L1279.3 822.8 L1279.6 829 L1279.8 835.2 L1280 841.4 L1280.1 847.6 L1280.3 853.8 L1280.4 860 L1280.6 866.3 L1280.7 872.5 L1280.8 878.7 L1280.9 884.9 L1281.1 891.1 L1281.2 897.4 L1281.3 903.6 L1281.4 909.8 L1281.5 916 L1281.6 922.2 L1281.8 928.4 L1281.9 934.7 L1282.1 940.9 L1282.2 947.1 L1282.4 953.3 L1282.6 959.5 L1282.9 965.7 L1283.1 971.9 L1283.4 978.2 L1283.7 984.4 L1284 990.6 L1284.3 996.8"/>
<path class="k" stroke-width="4.6" d="M1278.5 584.7 L1279.1 590.6 L1279.8 596.6 L1280.6 602.8 L1281.6 608.9 L1283 615 L1284.9 620.9 L1287.4 626.5 L1290.4 631.7 L1294 636.5 L1298.2 640.7 L1303 644.5 L1308 648 L1313.3 651.3 L1318.5 654.6 L1323.6 657.9 L1328.7 661.3 L1333.8 664.7 L1338.8 668.2 L1343.7 671.8 L1348.6 675.4 L1353.4 679.2 L1358.2 683 L1363 686.8 L1367.7 690.7 L1372.4 694.6 L1377.1 698.6 L1381.8 702.6 L1386.4 706.5 L1391.1 710.5 L1395.8 714.5 L1400.4 718.4 L1405.1 722.4 L1409.7 726.3 L1414.4 730.2 L1419.1 734.1 L1423.7 738 L1428.4 741.8 L1433.1 745.7 L1437.8 749.5 L1442.4 753.4 L1447.1 757.3 L1451.8 761.1 L1456.4 765 L1461.1 768.9 L1465.7 772.7 L1470.3 776.6 L1474.9 780.6 L1479.5 784.5 L1484.1 788.5 L1488.6 792.5 L1493.1 796.6 L1497.5 800.7 L1502 804.9 L1506.3 809.1 L1510.6 813.4 L1514.9 817.8 L1519.1 822.2 L1523.3 826.6 L1527.4 831.1 L1531.5 835.6 L1535.6 840.2 L1539.6 844.8 L1543.6 849.5 L1547.5 854.2 L1551.4 858.9 L1555.3 863.6 L1559.2 868.4 L1563 873.2 L1566.8 878 L1570.5 882.9 L1574.3 887.7 L1578 892.6 L1581.6 897.5 L1585.2 902.5 L1588.8 907.5 L1592.3 912.5 L1595.8 917.5 L1599.2 922.6 L1602.6 927.6 L1605.9 932.8 L1609.1 938 L1612.3 943.2 L1615.3 948.4 L1618.4 953.7 L1621.3 959.1 L1624.2 964.4 L1626.9 969.9 L1629.6 975.3 L1632.2 980.9 L1634.7 986.5 L1637.2 992.1 L1639.5 997.8"/>
<path class="k" stroke-width="4.6" d="M1278.3 662.6 L1279.7 668.6 L1281.3 674.5 L1283.3 680.3 L1285.5 686.1 L1287.9 691.8 L1290.5 697.4 L1293.3 702.9 L1296.3 708.3 L1299.4 713.6 L1302.7 718.8 L1306.2 723.9 L1309.8 728.9 L1313.5 733.8 L1317.4 738.6 L1321.4 743.3 L1325.4 748 L1329.6 752.5 L1333.7 757.1 L1337.9 761.6 L1342.1 766.2 L1346.3 770.7 L1350.5 775.2 L1354.6 779.9 L1358.6 784.5 L1362.6 789.2 L1366.6 793.9 L1370.5 798.6 L1374.4 803.4 L1378.2 808.2 L1382 813.1 L1385.7 818 L1389.4 822.9 L1393.1 827.8 L1396.7 832.8 L1400.3 837.8 L1403.9 842.8 L1407.4 847.9 L1410.9 853 L1414.3 858.1 L1417.7 863.2 L1421.1 868.4 L1424.4 873.6 L1427.7 878.8 L1431 884 L1434.3 889.2 L1437.5 894.5 L1440.7 899.8 L1443.9 905.1 L1447 910.4 L1450.1 915.7 L1453.2 921 L1456.3 926.4 L1459.4 931.8 L1462.4 937.1 L1465.4 942.5 L1468.4 947.9 L1471.4 953.3 L1474.3 958.8 L1477.3 964.2 L1480.2 969.6 L1483.1 975 L1486 980.5 L1488.9 985.9 L1491.7 991.4 L1494.6 996.8"/>
<path class="k" stroke-width="4.6" d="M1278.3 721.5 L1278.6 727.9 L1279.2 734.1 L1280.1 740.3 L1281.3 746.4 L1282.8 752.5 L1284.5 758.4 L1286.5 764.3 L1288.6 770.1 L1290.9 775.9 L1293.3 781.7 L1295.8 787.4 L1298.5 793 L1301.2 798.7 L1303.9 804.3 L1306.7 809.9 L1309.6 815.4 L1312.5 821 L1315.4 826.5 L1318.3 832.1 L1321.2 837.6 L1324.1 843.1 L1327 848.7 L1329.9 854.2 L1332.8 859.8 L1335.6 865.4 L1338.3 871 L1341.1 876.6 L1343.8 882.2 L1346.4 887.9 L1349.1 893.5 L1351.7 899.2 L1354.2 904.9 L1356.8 910.6 L1359.3 916.3 L1361.8 922 L1364.3 927.7 L1366.8 933.4 L1369.3 939.2 L1371.7 944.9 L1374.2 950.6 L1376.6 956.4 L1379 962.2 L1381.4 967.9 L1383.8 973.7 L1386.3 979.5 L1388.7 985.2 L1391.1 991 L1393.5 996.8"/>
<path class="k" stroke-width="4.6" d="M1278.5 846.2 L1279 852.7 L1279.6 859.1 L1280.3 865.5 L1281 872 L1281.8 878.4 L1282.8 884.9 L1283.8 891.2 L1285.1 897.6 L1286.5 903.9 L1288.1 910.2 L1289.8 916.4 L1291.8 922.6 L1293.8 928.7 L1295.9 934.8 L1298 941 L1300 947.1 L1301.9 953.3 L1303.8 959.5 L1305.6 965.7 L1307.4 971.9 L1309.2 978.1 L1311.1 984.3 L1312.9 990.5 L1314.6 996.7"/>
</g>
<rect class="fr" x="1278.2" y="537.3" width="458.5" height="455"/>
<text class="tk" text-anchor="end" transform="translate(1268.4 938.3) scale(1 1.045)">3.2</text>
<text class="tk" text-anchor="end" transform="translate(1268.4 798.3) scale(1 1.045)">3.6</text>
<text class="tk" text-anchor="end" transform="translate(1268.4 658.3) scale(1 1.045)">4.0</text>
<text class="tk" text-anchor="middle" transform="translate(1277.9 1030.9) scale(1 1.045)">0.0</text>
<text class="tk" text-anchor="middle" transform="translate(1392.5 1030.9) scale(1 1.045)">0.5</text>
<text class="tk" text-anchor="middle" transform="translate(1507.2 1030.9) scale(1 1.045)">1.0</text>
<text class="tk" text-anchor="middle" transform="translate(1621.8 1030.9) scale(1 1.045)">1.5</text>
<text class="tk" text-anchor="middle" transform="translate(1736.4 1030.9) scale(1 1.045)">2.0</text>
<text class="pl" text-anchor="end" transform="translate(1728.8 580.3) scale(1 0.965)">(f)</text>
<rect x="624" y="846" width="1.3" height="4.2" fill="#000"/>
<rect x="1200.4" y="843.6" width="1.3" height="4" fill="#000"/>
<text class="ax" xml:space="preserve" transform="translate(40.7 243.4) rotate(-90)" text-anchor="middle">cell  Potential  (V)</text>
<text class="ax" xml:space="preserve" transform="translate(40.7 767.5) rotate(-90)" text-anchor="middle">cell  potential  (V)</text>
<text class="ax" xml:space="preserve" text-anchor="middle" x="354.9" y="1088.2">capacity  (mAh/cm<tspan dy="-16" font-size="28.6px">2</tspan><tspan dy="16">)</tspan></text>
<text class="ax" xml:space="preserve" text-anchor="middle" x="930.8" y="1088.2">capacity  (mAh/cm<tspan dy="-16" font-size="28.6px">2</tspan><tspan dy="16">)</tspan></text>
<text class="ax" xml:space="preserve" text-anchor="middle" x="1506.8" y="1086.2">capacity  (mAh/cm<tspan dy="-16" font-size="28.6px">2</tspan><tspan dy="16">)</tspan></text>
</svg></body></html>
